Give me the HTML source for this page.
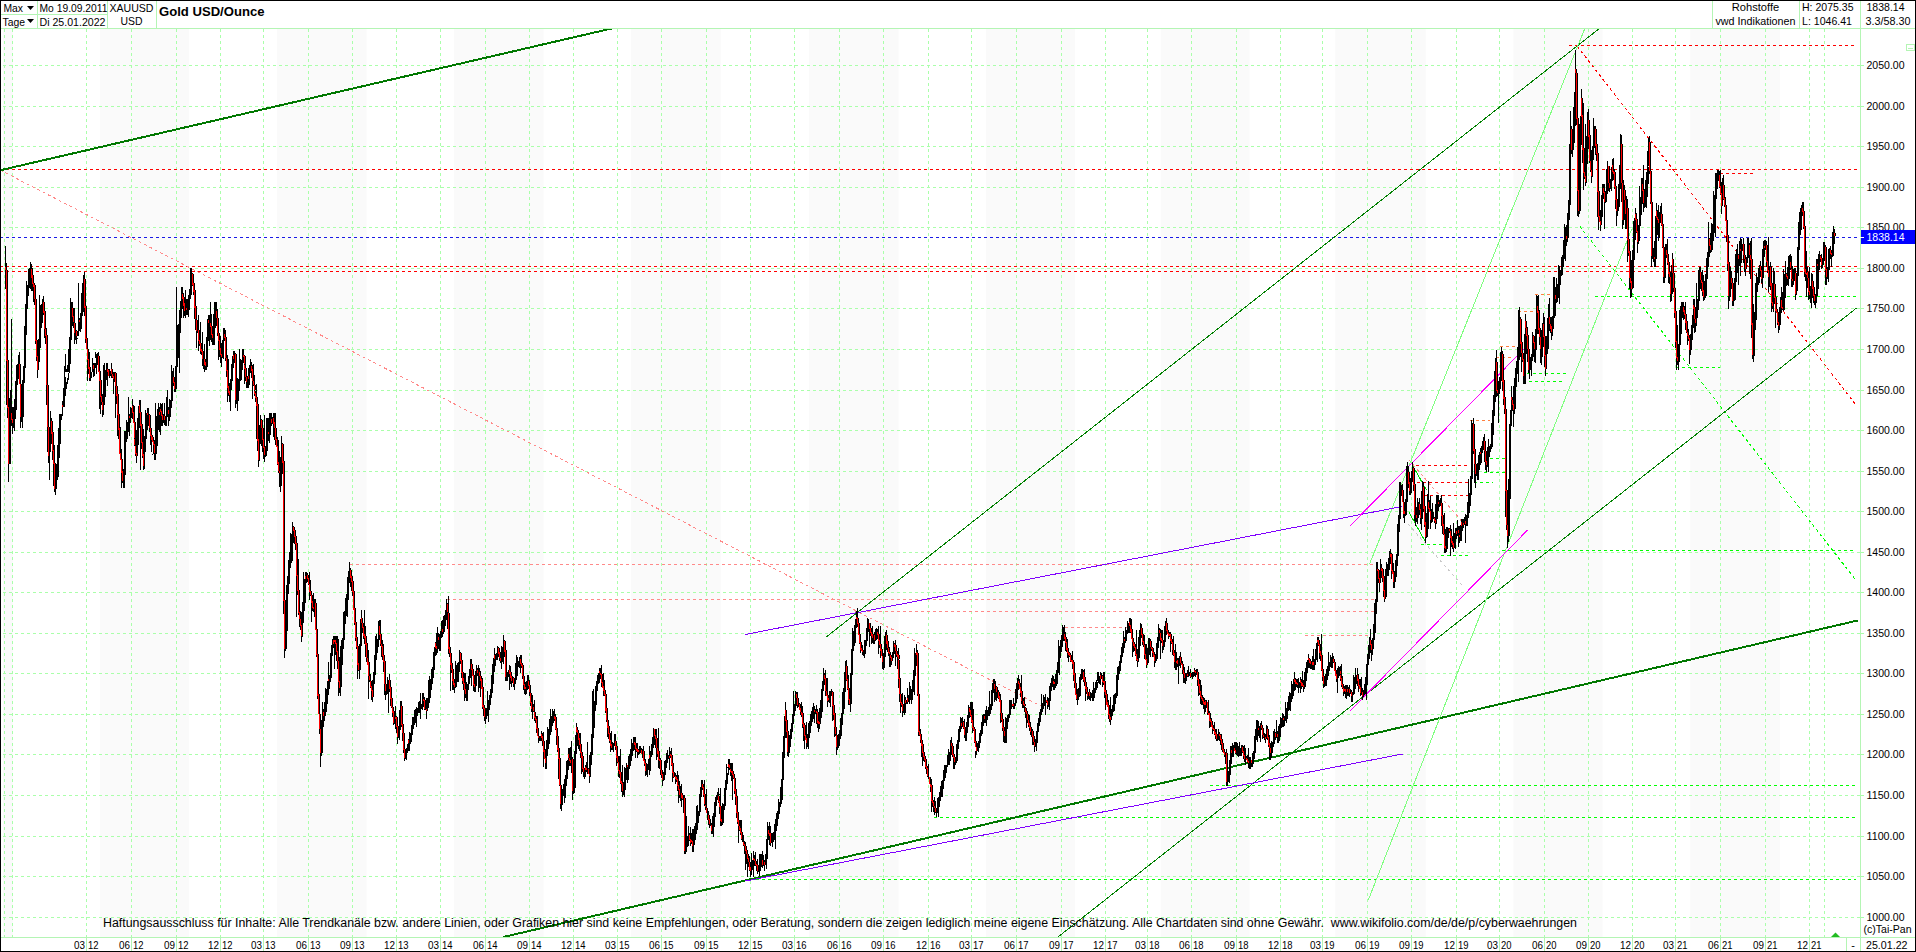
<!DOCTYPE html><html><head><meta charset="utf-8"><style>html,body{margin:0;padding:0;background:#fff;overflow:hidden}svg{display:block}text{font-family:"Liberation Sans", sans-serif}</style></head><body>
<svg width="1916" height="952" viewBox="0 0 1916 952">
<rect x="0" y="0" width="1916" height="952" fill="#fff"/>
<g fill="#fafafa">
<rect x="3" y="29" width="10.0" height="908"/>
<rect x="100" y="29" width="89.0" height="908"/>
<rect x="277" y="29" width="89.5" height="908"/>
<rect x="454" y="29" width="89.5" height="908"/>
<rect x="631" y="29" width="89.7" height="908"/>
<rect x="809" y="29" width="89.6" height="908"/>
<rect x="986" y="29" width="89.0" height="908"/>
<rect x="1160.7" y="29" width="88.9" height="908"/>
<rect x="1335.3" y="29" width="90.4" height="908"/>
<rect x="1513.4" y="29" width="89.2" height="908"/>
<rect x="1690.3" y="29" width="89.7" height="908"/>
</g>
<path d="M3 917.5H1857M3 876.5H1857M3 836.5H1857M3 795.5H1857M3 754.5H1857M3 714.5H1857M3 673.5H1857M3 633.5H1857M3 592.5H1857M3 552.5H1857M3 511.5H1857M3 471.5H1857M3 430.5H1857M3 390.5H1857M3 349.5H1857M3 308.5H1857M3 268.5H1857M3 227.5H1857M3 187.5H1857M3 146.5H1857M3 106.5H1857M3 65.5H1857" stroke="#aaffaa" stroke-width="1" stroke-dasharray="3 3" fill="none"/>
<path d="M1857 917.5H1864M1857 876.5H1864M1857 836.5H1864M1857 795.5H1864M1857 754.5H1864M1857 714.5H1864M1857 673.5H1864M1857 633.5H1864M1857 592.5H1864M1857 552.5H1864M1857 511.5H1864M1857 471.5H1864M1857 430.5H1864M1857 390.5H1864M1857 349.5H1864M1857 308.5H1864M1857 268.5H1864M1857 227.5H1864M1857 187.5H1864M1857 146.5H1864M1857 106.5H1864M1857 65.5H1864" stroke="#aaffaa" stroke-width="1" fill="none"/>
<path d="M4.5 29V937M12.5 29V937M86.5 29V937M131.5 29V937M176.5 29V937M220.5 29V937M263.5 29V937M308.5 29V937M352.5 29V937M396.5 29V937M440.5 29V937M485.5 29V937M529.5 29V937M573.5 29V937M617.5 29V937M661.5 29V937M706.5 29V937M750.5 29V937M794.5 29V937M839.5 29V937M883.5 29V937M928.5 29V937M971.5 29V937M1016.5 29V937M1061.5 29V937M1105.5 29V937M1147.5 29V937M1191.5 29V937M1236.5 29V937M1280.5 29V937M1322.5 29V937M1367.5 29V937M1411.5 29V937M1456.5 29V937M1499.5 29V937M1544.5 29V937M1588.5 29V937M1632.5 29V937M1675.5 29V937M1720.5 29V937M1765.5 29V937M1809.5 29V937M1824.5 29V937" stroke="#aaffaa" stroke-width="1" stroke-dasharray="3 3" fill="none"/>
<path d="M86.5 937V951M131.5 937V951M176.5 937V951M220.5 937V951M263.5 937V951M308.5 937V951M352.5 937V951M396.5 937V951M440.5 937V951M485.5 937V951M529.5 937V951M573.5 937V951M617.5 937V951M661.5 937V951M706.5 937V951M750.5 937V951M794.5 937V951M839.5 937V951M883.5 937V951M928.5 937V951M971.5 937V951M1016.5 937V951M1061.5 937V951M1105.5 937V951M1147.5 937V951M1191.5 937V951M1236.5 937V951M1280.5 937V951M1322.5 937V951M1367.5 937V951M1411.5 937V951M1456.5 937V951M1499.5 937V951M1544.5 937V951M1588.5 937V951M1632.5 937V951M1675.5 937V951M1720.5 937V951M1765.5 937V951M1809.5 937V951" stroke="#b4f5b4" stroke-width="1" fill="none"/>
<path d="M0 14.5H107M0 28.5H1915M37.5 1V28M107.5 1V28M156.5 1V28M1712.5 1V28M1799.5 1V28M1860.5 1V951M0 937.5H1915M1846.5 938V951" stroke="#b4f5b4" stroke-width="1" fill="none"/>
<text x="3.5" y="12" font-size="11" text-anchor="start" font-weight="normal" fill="#000" textLength="19.5" lengthAdjust="spacingAndGlyphs">Max</text>
<path d="M27 6H34L30.5 10Z" fill="#000"/>
<text x="2.5" y="26" font-size="11" text-anchor="start" font-weight="normal" fill="#000" textLength="22.5" lengthAdjust="spacingAndGlyphs">Tage</text>
<path d="M27 19H34L30.5 23Z" fill="#000"/>
<text x="39.5" y="12" font-size="11" text-anchor="start" font-weight="normal" fill="#000" textLength="68" lengthAdjust="spacingAndGlyphs">Mo 19.09.2011</text>
<text x="39.5" y="26" font-size="11" text-anchor="start" font-weight="normal" fill="#000" textLength="66" lengthAdjust="spacingAndGlyphs">Di 25.01.2022</text>
<text x="131.5" y="11.5" font-size="11" text-anchor="middle" font-weight="normal" fill="#000" textLength="44" lengthAdjust="spacingAndGlyphs">XAUUSD</text>
<text x="131.5" y="25" font-size="11" text-anchor="middle" font-weight="normal" fill="#000" textLength="22" lengthAdjust="spacingAndGlyphs">USD</text>
<text x="159" y="16" font-size="13" text-anchor="start" font-weight="bold" fill="#000" textLength="105.5" lengthAdjust="spacingAndGlyphs">Gold USD/Ounce</text>
<text x="1755.5" y="11" font-size="11" text-anchor="middle" font-weight="normal" fill="#000" textLength="47.5" lengthAdjust="spacingAndGlyphs">Rohstoffe</text>
<text x="1755.5" y="24.5" font-size="11" text-anchor="middle" font-weight="normal" fill="#000" textLength="80" lengthAdjust="spacingAndGlyphs">vwd Indikationen</text>
<text x="1802" y="11" font-size="11" text-anchor="start" font-weight="normal" fill="#000" textLength="51.5" lengthAdjust="spacingAndGlyphs">H: 2075.35</text>
<text x="1802" y="24.5" font-size="11" text-anchor="start" font-weight="normal" fill="#000" textLength="50" lengthAdjust="spacingAndGlyphs">L: 1046.41</text>
<text x="1866.5" y="11" font-size="11" text-anchor="start" font-weight="normal" fill="#000" textLength="38" lengthAdjust="spacingAndGlyphs">1838.14</text>
<text x="1865.5" y="24.5" font-size="11" text-anchor="start" font-weight="normal" fill="#000" textLength="45" lengthAdjust="spacingAndGlyphs">3.3/58.30</text>
<text x="1866.5" y="921" font-size="11" text-anchor="start" font-weight="normal" fill="#000" textLength="38" lengthAdjust="spacingAndGlyphs">1000.00</text>
<text x="1866.5" y="880" font-size="11" text-anchor="start" font-weight="normal" fill="#000" textLength="38" lengthAdjust="spacingAndGlyphs">1050.00</text>
<text x="1866.5" y="840" font-size="11" text-anchor="start" font-weight="normal" fill="#000" textLength="38" lengthAdjust="spacingAndGlyphs">1100.00</text>
<text x="1866.5" y="799" font-size="11" text-anchor="start" font-weight="normal" fill="#000" textLength="38" lengthAdjust="spacingAndGlyphs">1150.00</text>
<text x="1866.5" y="758" font-size="11" text-anchor="start" font-weight="normal" fill="#000" textLength="38" lengthAdjust="spacingAndGlyphs">1200.00</text>
<text x="1866.5" y="718" font-size="11" text-anchor="start" font-weight="normal" fill="#000" textLength="38" lengthAdjust="spacingAndGlyphs">1250.00</text>
<text x="1866.5" y="677" font-size="11" text-anchor="start" font-weight="normal" fill="#000" textLength="38" lengthAdjust="spacingAndGlyphs">1300.00</text>
<text x="1866.5" y="637" font-size="11" text-anchor="start" font-weight="normal" fill="#000" textLength="38" lengthAdjust="spacingAndGlyphs">1350.00</text>
<text x="1866.5" y="596" font-size="11" text-anchor="start" font-weight="normal" fill="#000" textLength="38" lengthAdjust="spacingAndGlyphs">1400.00</text>
<text x="1866.5" y="556" font-size="11" text-anchor="start" font-weight="normal" fill="#000" textLength="38" lengthAdjust="spacingAndGlyphs">1450.00</text>
<text x="1866.5" y="515" font-size="11" text-anchor="start" font-weight="normal" fill="#000" textLength="38" lengthAdjust="spacingAndGlyphs">1500.00</text>
<text x="1866.5" y="475" font-size="11" text-anchor="start" font-weight="normal" fill="#000" textLength="38" lengthAdjust="spacingAndGlyphs">1550.00</text>
<text x="1866.5" y="434" font-size="11" text-anchor="start" font-weight="normal" fill="#000" textLength="38" lengthAdjust="spacingAndGlyphs">1600.00</text>
<text x="1866.5" y="394" font-size="11" text-anchor="start" font-weight="normal" fill="#000" textLength="38" lengthAdjust="spacingAndGlyphs">1650.00</text>
<text x="1866.5" y="353" font-size="11" text-anchor="start" font-weight="normal" fill="#000" textLength="38" lengthAdjust="spacingAndGlyphs">1700.00</text>
<text x="1866.5" y="312" font-size="11" text-anchor="start" font-weight="normal" fill="#000" textLength="38" lengthAdjust="spacingAndGlyphs">1750.00</text>
<text x="1866.5" y="272" font-size="11" text-anchor="start" font-weight="normal" fill="#000" textLength="38" lengthAdjust="spacingAndGlyphs">1800.00</text>
<text x="1866.5" y="231" font-size="11" text-anchor="start" font-weight="normal" fill="#000" textLength="38" lengthAdjust="spacingAndGlyphs">1850.00</text>
<text x="1866.5" y="191" font-size="11" text-anchor="start" font-weight="normal" fill="#000" textLength="38" lengthAdjust="spacingAndGlyphs">1900.00</text>
<text x="1866.5" y="150" font-size="11" text-anchor="start" font-weight="normal" fill="#000" textLength="38" lengthAdjust="spacingAndGlyphs">1950.00</text>
<text x="1866.5" y="110" font-size="11" text-anchor="start" font-weight="normal" fill="#000" textLength="38" lengthAdjust="spacingAndGlyphs">2000.00</text>
<text x="1866.5" y="69" font-size="11" text-anchor="start" font-weight="normal" fill="#000" textLength="38" lengthAdjust="spacingAndGlyphs">2050.00</text>
<rect x="1906.5" y="44.5" width="8" height="6" fill="none" stroke="#b4f5b4"/><path d="M1908 48.5H1913" stroke="#b4f5b4"/>
<text x="85.0" y="948.5" font-size="11" text-anchor="end" font-weight="normal" fill="#000" textLength="11" lengthAdjust="spacingAndGlyphs">03</text>
<text x="88.0" y="948.5" font-size="11" text-anchor="start" font-weight="normal" fill="#000" textLength="10.5" lengthAdjust="spacingAndGlyphs">12</text>
<text x="130.0" y="948.5" font-size="11" text-anchor="end" font-weight="normal" fill="#000" textLength="11" lengthAdjust="spacingAndGlyphs">06</text>
<text x="133.0" y="948.5" font-size="11" text-anchor="start" font-weight="normal" fill="#000" textLength="10.5" lengthAdjust="spacingAndGlyphs">12</text>
<text x="175.0" y="948.5" font-size="11" text-anchor="end" font-weight="normal" fill="#000" textLength="11" lengthAdjust="spacingAndGlyphs">09</text>
<text x="178.0" y="948.5" font-size="11" text-anchor="start" font-weight="normal" fill="#000" textLength="10.5" lengthAdjust="spacingAndGlyphs">12</text>
<text x="219.0" y="948.5" font-size="11" text-anchor="end" font-weight="normal" fill="#000" textLength="11" lengthAdjust="spacingAndGlyphs">12</text>
<text x="222.0" y="948.5" font-size="11" text-anchor="start" font-weight="normal" fill="#000" textLength="10.5" lengthAdjust="spacingAndGlyphs">12</text>
<text x="262.0" y="948.5" font-size="11" text-anchor="end" font-weight="normal" fill="#000" textLength="11" lengthAdjust="spacingAndGlyphs">03</text>
<text x="265.0" y="948.5" font-size="11" text-anchor="start" font-weight="normal" fill="#000" textLength="10.5" lengthAdjust="spacingAndGlyphs">13</text>
<text x="307.0" y="948.5" font-size="11" text-anchor="end" font-weight="normal" fill="#000" textLength="11" lengthAdjust="spacingAndGlyphs">06</text>
<text x="310.0" y="948.5" font-size="11" text-anchor="start" font-weight="normal" fill="#000" textLength="10.5" lengthAdjust="spacingAndGlyphs">13</text>
<text x="351.0" y="948.5" font-size="11" text-anchor="end" font-weight="normal" fill="#000" textLength="11" lengthAdjust="spacingAndGlyphs">09</text>
<text x="354.0" y="948.5" font-size="11" text-anchor="start" font-weight="normal" fill="#000" textLength="10.5" lengthAdjust="spacingAndGlyphs">13</text>
<text x="395.0" y="948.5" font-size="11" text-anchor="end" font-weight="normal" fill="#000" textLength="11" lengthAdjust="spacingAndGlyphs">12</text>
<text x="398.0" y="948.5" font-size="11" text-anchor="start" font-weight="normal" fill="#000" textLength="10.5" lengthAdjust="spacingAndGlyphs">13</text>
<text x="439.0" y="948.5" font-size="11" text-anchor="end" font-weight="normal" fill="#000" textLength="11" lengthAdjust="spacingAndGlyphs">03</text>
<text x="442.0" y="948.5" font-size="11" text-anchor="start" font-weight="normal" fill="#000" textLength="10.5" lengthAdjust="spacingAndGlyphs">14</text>
<text x="484.0" y="948.5" font-size="11" text-anchor="end" font-weight="normal" fill="#000" textLength="11" lengthAdjust="spacingAndGlyphs">06</text>
<text x="487.0" y="948.5" font-size="11" text-anchor="start" font-weight="normal" fill="#000" textLength="10.5" lengthAdjust="spacingAndGlyphs">14</text>
<text x="528.0" y="948.5" font-size="11" text-anchor="end" font-weight="normal" fill="#000" textLength="11" lengthAdjust="spacingAndGlyphs">09</text>
<text x="531.0" y="948.5" font-size="11" text-anchor="start" font-weight="normal" fill="#000" textLength="10.5" lengthAdjust="spacingAndGlyphs">14</text>
<text x="572.0" y="948.5" font-size="11" text-anchor="end" font-weight="normal" fill="#000" textLength="11" lengthAdjust="spacingAndGlyphs">12</text>
<text x="575.0" y="948.5" font-size="11" text-anchor="start" font-weight="normal" fill="#000" textLength="10.5" lengthAdjust="spacingAndGlyphs">14</text>
<text x="616.0" y="948.5" font-size="11" text-anchor="end" font-weight="normal" fill="#000" textLength="11" lengthAdjust="spacingAndGlyphs">03</text>
<text x="619.0" y="948.5" font-size="11" text-anchor="start" font-weight="normal" fill="#000" textLength="10.5" lengthAdjust="spacingAndGlyphs">15</text>
<text x="660.0" y="948.5" font-size="11" text-anchor="end" font-weight="normal" fill="#000" textLength="11" lengthAdjust="spacingAndGlyphs">06</text>
<text x="663.0" y="948.5" font-size="11" text-anchor="start" font-weight="normal" fill="#000" textLength="10.5" lengthAdjust="spacingAndGlyphs">15</text>
<text x="705.0" y="948.5" font-size="11" text-anchor="end" font-weight="normal" fill="#000" textLength="11" lengthAdjust="spacingAndGlyphs">09</text>
<text x="708.0" y="948.5" font-size="11" text-anchor="start" font-weight="normal" fill="#000" textLength="10.5" lengthAdjust="spacingAndGlyphs">15</text>
<text x="749.0" y="948.5" font-size="11" text-anchor="end" font-weight="normal" fill="#000" textLength="11" lengthAdjust="spacingAndGlyphs">12</text>
<text x="752.0" y="948.5" font-size="11" text-anchor="start" font-weight="normal" fill="#000" textLength="10.5" lengthAdjust="spacingAndGlyphs">15</text>
<text x="793.0" y="948.5" font-size="11" text-anchor="end" font-weight="normal" fill="#000" textLength="11" lengthAdjust="spacingAndGlyphs">03</text>
<text x="796.0" y="948.5" font-size="11" text-anchor="start" font-weight="normal" fill="#000" textLength="10.5" lengthAdjust="spacingAndGlyphs">16</text>
<text x="838.0" y="948.5" font-size="11" text-anchor="end" font-weight="normal" fill="#000" textLength="11" lengthAdjust="spacingAndGlyphs">06</text>
<text x="841.0" y="948.5" font-size="11" text-anchor="start" font-weight="normal" fill="#000" textLength="10.5" lengthAdjust="spacingAndGlyphs">16</text>
<text x="882.0" y="948.5" font-size="11" text-anchor="end" font-weight="normal" fill="#000" textLength="11" lengthAdjust="spacingAndGlyphs">09</text>
<text x="885.0" y="948.5" font-size="11" text-anchor="start" font-weight="normal" fill="#000" textLength="10.5" lengthAdjust="spacingAndGlyphs">16</text>
<text x="927.0" y="948.5" font-size="11" text-anchor="end" font-weight="normal" fill="#000" textLength="11" lengthAdjust="spacingAndGlyphs">12</text>
<text x="930.0" y="948.5" font-size="11" text-anchor="start" font-weight="normal" fill="#000" textLength="10.5" lengthAdjust="spacingAndGlyphs">16</text>
<text x="970.0" y="948.5" font-size="11" text-anchor="end" font-weight="normal" fill="#000" textLength="11" lengthAdjust="spacingAndGlyphs">03</text>
<text x="973.0" y="948.5" font-size="11" text-anchor="start" font-weight="normal" fill="#000" textLength="10.5" lengthAdjust="spacingAndGlyphs">17</text>
<text x="1015.0" y="948.5" font-size="11" text-anchor="end" font-weight="normal" fill="#000" textLength="11" lengthAdjust="spacingAndGlyphs">06</text>
<text x="1018.0" y="948.5" font-size="11" text-anchor="start" font-weight="normal" fill="#000" textLength="10.5" lengthAdjust="spacingAndGlyphs">17</text>
<text x="1060.0" y="948.5" font-size="11" text-anchor="end" font-weight="normal" fill="#000" textLength="11" lengthAdjust="spacingAndGlyphs">09</text>
<text x="1063.0" y="948.5" font-size="11" text-anchor="start" font-weight="normal" fill="#000" textLength="10.5" lengthAdjust="spacingAndGlyphs">17</text>
<text x="1104.0" y="948.5" font-size="11" text-anchor="end" font-weight="normal" fill="#000" textLength="11" lengthAdjust="spacingAndGlyphs">12</text>
<text x="1107.0" y="948.5" font-size="11" text-anchor="start" font-weight="normal" fill="#000" textLength="10.5" lengthAdjust="spacingAndGlyphs">17</text>
<text x="1146.0" y="948.5" font-size="11" text-anchor="end" font-weight="normal" fill="#000" textLength="11" lengthAdjust="spacingAndGlyphs">03</text>
<text x="1149.0" y="948.5" font-size="11" text-anchor="start" font-weight="normal" fill="#000" textLength="10.5" lengthAdjust="spacingAndGlyphs">18</text>
<text x="1190.0" y="948.5" font-size="11" text-anchor="end" font-weight="normal" fill="#000" textLength="11" lengthAdjust="spacingAndGlyphs">06</text>
<text x="1193.0" y="948.5" font-size="11" text-anchor="start" font-weight="normal" fill="#000" textLength="10.5" lengthAdjust="spacingAndGlyphs">18</text>
<text x="1235.0" y="948.5" font-size="11" text-anchor="end" font-weight="normal" fill="#000" textLength="11" lengthAdjust="spacingAndGlyphs">09</text>
<text x="1238.0" y="948.5" font-size="11" text-anchor="start" font-weight="normal" fill="#000" textLength="10.5" lengthAdjust="spacingAndGlyphs">18</text>
<text x="1279.0" y="948.5" font-size="11" text-anchor="end" font-weight="normal" fill="#000" textLength="11" lengthAdjust="spacingAndGlyphs">12</text>
<text x="1282.0" y="948.5" font-size="11" text-anchor="start" font-weight="normal" fill="#000" textLength="10.5" lengthAdjust="spacingAndGlyphs">18</text>
<text x="1321.0" y="948.5" font-size="11" text-anchor="end" font-weight="normal" fill="#000" textLength="11" lengthAdjust="spacingAndGlyphs">03</text>
<text x="1324.0" y="948.5" font-size="11" text-anchor="start" font-weight="normal" fill="#000" textLength="10.5" lengthAdjust="spacingAndGlyphs">19</text>
<text x="1366.0" y="948.5" font-size="11" text-anchor="end" font-weight="normal" fill="#000" textLength="11" lengthAdjust="spacingAndGlyphs">06</text>
<text x="1369.0" y="948.5" font-size="11" text-anchor="start" font-weight="normal" fill="#000" textLength="10.5" lengthAdjust="spacingAndGlyphs">19</text>
<text x="1410.0" y="948.5" font-size="11" text-anchor="end" font-weight="normal" fill="#000" textLength="11" lengthAdjust="spacingAndGlyphs">09</text>
<text x="1413.0" y="948.5" font-size="11" text-anchor="start" font-weight="normal" fill="#000" textLength="10.5" lengthAdjust="spacingAndGlyphs">19</text>
<text x="1455.0" y="948.5" font-size="11" text-anchor="end" font-weight="normal" fill="#000" textLength="11" lengthAdjust="spacingAndGlyphs">12</text>
<text x="1458.0" y="948.5" font-size="11" text-anchor="start" font-weight="normal" fill="#000" textLength="10.5" lengthAdjust="spacingAndGlyphs">19</text>
<text x="1498.0" y="948.5" font-size="11" text-anchor="end" font-weight="normal" fill="#000" textLength="11" lengthAdjust="spacingAndGlyphs">03</text>
<text x="1501.0" y="948.5" font-size="11" text-anchor="start" font-weight="normal" fill="#000" textLength="10.5" lengthAdjust="spacingAndGlyphs">20</text>
<text x="1543.0" y="948.5" font-size="11" text-anchor="end" font-weight="normal" fill="#000" textLength="11" lengthAdjust="spacingAndGlyphs">06</text>
<text x="1546.0" y="948.5" font-size="11" text-anchor="start" font-weight="normal" fill="#000" textLength="10.5" lengthAdjust="spacingAndGlyphs">20</text>
<text x="1587.0" y="948.5" font-size="11" text-anchor="end" font-weight="normal" fill="#000" textLength="11" lengthAdjust="spacingAndGlyphs">09</text>
<text x="1590.0" y="948.5" font-size="11" text-anchor="start" font-weight="normal" fill="#000" textLength="10.5" lengthAdjust="spacingAndGlyphs">20</text>
<text x="1631.0" y="948.5" font-size="11" text-anchor="end" font-weight="normal" fill="#000" textLength="11" lengthAdjust="spacingAndGlyphs">12</text>
<text x="1634.0" y="948.5" font-size="11" text-anchor="start" font-weight="normal" fill="#000" textLength="10.5" lengthAdjust="spacingAndGlyphs">20</text>
<text x="1674.0" y="948.5" font-size="11" text-anchor="end" font-weight="normal" fill="#000" textLength="11" lengthAdjust="spacingAndGlyphs">03</text>
<text x="1677.0" y="948.5" font-size="11" text-anchor="start" font-weight="normal" fill="#000" textLength="10.5" lengthAdjust="spacingAndGlyphs">21</text>
<text x="1719.0" y="948.5" font-size="11" text-anchor="end" font-weight="normal" fill="#000" textLength="11" lengthAdjust="spacingAndGlyphs">06</text>
<text x="1722.0" y="948.5" font-size="11" text-anchor="start" font-weight="normal" fill="#000" textLength="10.5" lengthAdjust="spacingAndGlyphs">21</text>
<text x="1764.0" y="948.5" font-size="11" text-anchor="end" font-weight="normal" fill="#000" textLength="11" lengthAdjust="spacingAndGlyphs">09</text>
<text x="1767.0" y="948.5" font-size="11" text-anchor="start" font-weight="normal" fill="#000" textLength="10.5" lengthAdjust="spacingAndGlyphs">21</text>
<text x="1808.0" y="948.5" font-size="11" text-anchor="end" font-weight="normal" fill="#000" textLength="11" lengthAdjust="spacingAndGlyphs">12</text>
<text x="1811.0" y="948.5" font-size="11" text-anchor="start" font-weight="normal" fill="#000" textLength="10.5" lengthAdjust="spacingAndGlyphs">21</text>
<text x="1853" y="948.5" font-size="11" text-anchor="middle" font-weight="normal" fill="#000">-</text>
<text x="1866" y="948.5" font-size="11" text-anchor="start" font-weight="normal" fill="#000" textLength="41.5" lengthAdjust="spacingAndGlyphs">25.01.22</text>
<text x="1863.5" y="932.5" font-size="11" text-anchor="start" font-weight="normal" fill="#000" textLength="48" lengthAdjust="spacingAndGlyphs">(c)Tai-Pan</text>
<path d="M1831 937L1835.5 932.5L1840 937Z" fill="#22bb22"/>
<defs><clipPath id="cc"><rect x="1" y="29" width="1859" height="908"/></clipPath></defs>
<g clip-path="url(#cc)">
<path d="M0 169.5L1860 169.5" stroke="#ff0000" stroke-width="1" fill="none" stroke-dasharray="3 3" shape-rendering="crispEdges"/>
<path d="M0 266.5L1860 266.5" stroke="#ff0000" stroke-width="1" fill="none" stroke-dasharray="3 3" shape-rendering="crispEdges"/>
<path d="M0 271.5L1860 271.5" stroke="#ff0000" stroke-width="1" fill="none" stroke-dasharray="3 3" shape-rendering="crispEdges"/>
<path d="M0 237.5L1864 237.5" stroke="#1a1ae6" stroke-width="1" fill="none" stroke-dasharray="3 3" shape-rendering="crispEdges"/>
<path d="M0 170L1041 706" stroke="#ff8a8a" stroke-width="1" fill="none" stroke-dasharray="3 3" shape-rendering="crispEdges"/>
<path d="M350 564.5L1374 564.5" stroke="#ff8a8a" stroke-width="1" fill="none" stroke-dasharray="3 3" shape-rendering="crispEdges"/>
<path d="M447 599.5L1374 599.5" stroke="#ff8a8a" stroke-width="1" fill="none" stroke-dasharray="3 3" shape-rendering="crispEdges"/>
<path d="M855 611.5L1374 611.5" stroke="#ff8a8a" stroke-width="1" fill="none" stroke-dasharray="3 3" shape-rendering="crispEdges"/>
<path d="M1065 627.5L1130 627.5" stroke="#ff8a8a" stroke-width="1" fill="none" stroke-dasharray="3 3" shape-rendering="crispEdges"/>
<path d="M1305 635.5L1370 635.5" stroke="#ff8a8a" stroke-width="1" fill="none" stroke-dasharray="3 3" shape-rendering="crispEdges"/>
<path d="M1569 45.5L1855 45.5" stroke="#ff0000" stroke-width="1" fill="none" stroke-dasharray="3 3" shape-rendering="crispEdges"/>
<path d="M1577 46L1856.6 405.7" stroke="#ff0000" stroke-width="1" fill="none" stroke-dasharray="3 3" shape-rendering="crispEdges"/>
<path d="M1720 173.5L1755 173.5" stroke="#ff0000" stroke-width="1" fill="none" stroke-dasharray="3 3" shape-rendering="crispEdges"/>
<path d="M1415.7 465.5L1469.5 465.5" stroke="#ff0000" stroke-width="1" fill="none" stroke-dasharray="3 3" shape-rendering="crispEdges"/>
<path d="M1417 482.5L1469.5 482.5" stroke="#ff0000" stroke-width="1" fill="none" stroke-dasharray="3 3" shape-rendering="crispEdges"/>
<path d="M1424 495.5L1469.5 495.5" stroke="#ff0000" stroke-width="1" fill="none" stroke-dasharray="3 3" shape-rendering="crispEdges"/>
<path d="M1535 294.5L1551 294.5" stroke="#ff8040" stroke-width="1" fill="none" stroke-dasharray="3 3" shape-rendering="crispEdges"/>
<path d="M1518 311.5L1533 311.5" stroke="#ff8040" stroke-width="1" fill="none" stroke-dasharray="3 3" shape-rendering="crispEdges"/>
<path d="M1500 346.5L1515 346.5" stroke="#ff8040" stroke-width="1" fill="none" stroke-dasharray="3 3" shape-rendering="crispEdges"/>
<path d="M1496 357.5L1512 357.5" stroke="#ff8040" stroke-width="1" fill="none" stroke-dasharray="3 3" shape-rendering="crispEdges"/>
<path d="M1470 420.5L1490 420.5" stroke="#ff8040" stroke-width="1" fill="none" stroke-dasharray="3 3" shape-rendering="crispEdges"/>
<path d="M1595 296.5L1856 296.5" stroke="#00ff00" stroke-width="1" fill="none" stroke-dasharray="3 3" shape-rendering="crispEdges"/>
<path d="M1676 367.5L1720 367.5" stroke="#00ff00" stroke-width="1" fill="none" stroke-dasharray="3 3" shape-rendering="crispEdges"/>
<path d="M1502 550.5L1856 550.5" stroke="#00ff00" stroke-width="1" fill="none" stroke-dasharray="3 3" shape-rendering="crispEdges"/>
<path d="M1210 785.5L1856 785.5" stroke="#00ff00" stroke-width="1" fill="none" stroke-dasharray="3 3" shape-rendering="crispEdges"/>
<path d="M934 817.5L1856 817.5" stroke="#00ff00" stroke-width="1" fill="none" stroke-dasharray="3 3" shape-rendering="crispEdges"/>
<path d="M750 879.5L1856 879.5" stroke="#00ff00" stroke-width="1" fill="none" stroke-dasharray="3 3" shape-rendering="crispEdges"/>
<path d="M1527 373.5L1566 373.5" stroke="#00ff00" stroke-width="1" fill="none" stroke-dasharray="3 3" shape-rendering="crispEdges"/>
<path d="M1523 381.5L1562 381.5" stroke="#00ff00" stroke-width="1" fill="none" stroke-dasharray="3 3" shape-rendering="crispEdges"/>
<path d="M1421 544.5L1446 544.5" stroke="#00ff00" stroke-width="1" fill="none" stroke-dasharray="3 3" shape-rendering="crispEdges"/>
<path d="M1441 555.5L1468 555.5" stroke="#00ff00" stroke-width="1" fill="none" stroke-dasharray="3 3" shape-rendering="crispEdges"/>
<path d="M1474 482.5L1493 482.5" stroke="#00ff00" stroke-width="1" fill="none" stroke-dasharray="3 3" shape-rendering="crispEdges"/>
<path d="M1484 472.5L1505 472.5" stroke="#00ff00" stroke-width="1" fill="none" stroke-dasharray="3 3" shape-rendering="crispEdges"/>
<path d="M1490 458.5L1508 458.5" stroke="#00ff00" stroke-width="1" fill="none" stroke-dasharray="3 3" shape-rendering="crispEdges"/>
<path d="M1579.8 226.3L1855 579" stroke="#00ff00" stroke-width="1" fill="none" stroke-dasharray="3 3" shape-rendering="crispEdges"/>
<path d="M1412.4 465L1426.6 490.4" stroke="#00dd00" stroke-width="1" fill="none" shape-rendering="crispEdges"/>
<path d="M1409 512.3L1425.8 542.5" stroke="#00dd00" stroke-width="1" fill="none" shape-rendering="crispEdges"/>
<path d="M1408 524L1462.8 586" stroke="#c8c8c8" stroke-width="1" fill="none" stroke-dasharray="3 3" shape-rendering="crispEdges"/>
<path d="M1409 460L1462.8 522.4" stroke="#ff8a8a" stroke-width="1" fill="none" stroke-dasharray="3 3" shape-rendering="crispEdges"/>
<path d="M0 170.3L613.8 28" stroke="#007800" stroke-width="2" fill="none" shape-rendering="crispEdges"/>
<path d="M503.4 937L1857.6 620.5" stroke="#007800" stroke-width="2" fill="none" shape-rendering="crispEdges"/>
<path d="M826.6 636.7L1600 28" stroke="#008000" stroke-width="1" fill="none" shape-rendering="crispEdges"/>
<path d="M1058 937L1856.6 308" stroke="#008000" stroke-width="1" fill="none" shape-rendering="crispEdges"/>
<path d="M1369.4 564.4L1584.6 29" stroke="#80ff80" stroke-width="1" fill="none" shape-rendering="crispEdges"/>
<path d="M1368.3 900L1631.5 229.5" stroke="#80ff80" stroke-width="1" fill="none" shape-rendering="crispEdges"/>
<path d="M745.2 634.5L1402.3 506.4" stroke="#8000ff" stroke-width="1" fill="none" shape-rendering="crispEdges"/>
<path d="M745.6 881L1402.6 754" stroke="#8000ff" stroke-width="1" fill="none" shape-rendering="crispEdges"/>
<path d="M1350.2 525.7L1525 348" stroke="#ff00ff" stroke-width="1" fill="none" shape-rendering="crispEdges"/>
<path d="M1350 711L1527.6 530" stroke="#ff00ff" stroke-width="1" fill="none" shape-rendering="crispEdges"/>
<path d="M5.5 246V289M6.5 267V270M6.5 263V311M7.5 270V307M6.5 297V405M7.5 305V361M7.5 352V418M8.5 360V408M8.5 406V482M9.5 407V464M9.5 454V464M10.5 456V464M9.5 398V462M10.5 423V456M10.5 390V427M11.5 413V425M11.5 319V420M12.5 413V420M11.5 415V426M12.5 420V421M12.5 407V434M13.5 419V423M13.5 422V428M14.5 422V424M13.5 407V424M14.5 416V423M14.5 399V431M15.5 409V417M15.5 381V419M16.5 396V410M15.5 383V400M16.5 384V396M16.5 365V392M17.5 377V385M17.5 368V384M18.5 374V379M17.5 364V383M18.5 365V374M18.5 355V367M19.5 364V366M19.5 352V384M20.5 364V384M20.5 381V416M21.5 384V399M20.5 397V428M21.5 398V417M21.5 415V422M22.5 416V417M22.5 399V428M23.5 400V417M22.5 380V406M23.5 382V402M23.5 366V402M24.5 367V383M24.5 336V373M25.5 347V368M24.5 326V352M25.5 328V347M25.5 304V338M26.5 308V329M26.5 300V335M27.5 302V309M26.5 281V308M27.5 294V303M27.5 285V298M28.5 288V296M28.5 269V295M29.5 281V288M28.5 273V287M29.5 275V283M29.5 268V284M30.5 270V276M30.5 262V289M31.5 269V270M31.5 264V279M32.5 269V278M31.5 275V291M32.5 275V279M32.5 268V291M33.5 275V284M33.5 278V298M34.5 283V287M33.5 280V302M34.5 285V287M34.5 283V305M35.5 285V299M35.5 295V320M36.5 299V319M35.5 301V344M36.5 317V341M36.5 338V361M37.5 340V357M37.5 354V378M38.5 356V370M37.5 360V377M38.5 361V370M38.5 339V367M39.5 347V362M39.5 295V349M40.5 334V348M39.5 320V351M40.5 327V335M40.5 305V330M41.5 320V328M41.5 313V325M42.5 315V320M41.5 304V319M42.5 308V317M42.5 299V323M43.5 304V309M43.5 296V315M44.5 302V313M44.5 305V338M45.5 311V324M44.5 312V335M45.5 323V329M45.5 324V344M46.5 329V336M46.5 328V350M47.5 335V348M46.5 343V405M47.5 348V385M47.5 383V452M48.5 385V427M48.5 420V463M49.5 427V456M48.5 442V462M49.5 446V455M49.5 439V480M50.5 443V446M50.5 429V447M51.5 432V444M50.5 411V452M51.5 421V433M51.5 418V443M52.5 421V434M52.5 431V444M53.5 432V442M52.5 432V460M53.5 441V451M53.5 444V486M54.5 450V464M54.5 445V478M55.5 463V476M54.5 469V492M55.5 476V489M55.5 469V495M56.5 479V489M56.5 464V480M57.5 473V480M57.5 457V479M58.5 465V473M57.5 445V471M58.5 456V466M58.5 428V477M59.5 443V458M59.5 414V449M60.5 430V444M59.5 415V437M60.5 415V431M60.5 414V422M61.5 414V417M61.5 414V417M62.5 405V416M61.5 414V420M62.5 404V405M62.5 401V409M63.5 405V407M63.5 395V407M64.5 400V407M63.5 388V402M64.5 394V400M64.5 366V407M65.5 389V396M65.5 377V391M66.5 388V389M65.5 354V372M66.5 382V389M66.5 369V372M67.5 378V384M67.5 365V372M68.5 373V380M68.5 368V372M69.5 369V373M68.5 349V372M69.5 357V369M69.5 337V368M70.5 339V359M70.5 321V364M71.5 324V340M70.5 298V326M71.5 309V325M71.5 302V310M72.5 308V310M72.5 302V313M73.5 309V310M72.5 303V326M73.5 308V317M73.5 309V328M74.5 316V322M74.5 308V338M75.5 323V329M74.5 313V344M75.5 329V333M75.5 323V340M76.5 331V334M76.5 330V344M77.5 331V334M76.5 332V344M77.5 333V336M77.5 338V339M78.5 328V336M78.5 283V336M79.5 322V331M78.5 309V327M79.5 321V322M79.5 318V324M80.5 320V322M80.5 313V332M81.5 314V322M81.5 299V329M82.5 314V316M81.5 293V322M82.5 301V315M82.5 283V310M83.5 288V302M83.5 281V292M84.5 284V288M83.5 275V312M84.5 280V285M84.5 272V316M85.5 279V308M85.5 306V336M86.5 306V331M85.5 328V343M86.5 330V339M86.5 337V349M87.5 338V349M87.5 347V358M88.5 349V357M87.5 356V381M88.5 357V360M88.5 355V374M89.5 359V369M89.5 362V381M90.5 367V375M89.5 352V381M90.5 373V378M90.5 367V381M91.5 372V378M91.5 374V375M92.5 370V372M91.5 374V375M92.5 367V371M92.5 358V372M93.5 364V367M93.5 363V377M94.5 365V369M94.5 364V376M95.5 367V368M94.5 363V369M95.5 363V368M95.5 352V358M96.5 362V364M96.5 361V374M97.5 362V365M96.5 354V374M97.5 357V362M97.5 353V365M98.5 355V359M98.5 355V360M99.5 356V360M98.5 352V372M99.5 359V372M99.5 367V409M100.5 371V381M100.5 380V400M101.5 380V389M100.5 379V414M101.5 388V397M101.5 383V405M102.5 396V402M102.5 394V417M103.5 402V410M102.5 401V417M103.5 403V409M103.5 365V415M104.5 397V405M104.5 385V399M105.5 386V397M104.5 363V398M105.5 377V387M105.5 370V388M106.5 372V378M106.5 366V377M107.5 369V372M106.5 363V380M107.5 368V369M107.5 363V386M108.5 369V372M108.5 370V371M109.5 370V376M109.5 374V377M110.5 374V376M109.5 369V378M110.5 374V376M110.5 371V374M111.5 372V374M111.5 363V378M112.5 370V374M111.5 368V378M112.5 369V374M112.5 372V378M113.5 374V377M113.5 372V387M114.5 376V379M113.5 372V394M114.5 376V378M114.5 372V382M115.5 374V377M115.5 372V404M116.5 373V378M115.5 376V418M116.5 378V386M116.5 379V404M117.5 386V396M117.5 394V436M118.5 394V403M117.5 399V416M118.5 402V415M118.5 405V439M119.5 414V430M119.5 417V444M120.5 428V443M119.5 437V454M120.5 441V454M120.5 427V460M121.5 453V460M121.5 449V475M122.5 459V468M121.5 466V488M122.5 468V473M122.5 463V483M123.5 471V481M123.5 469V488M124.5 474V481M124.5 456V488M125.5 458V475M124.5 431V461M125.5 441V459M125.5 431V460M126.5 434V442M126.5 432V436M127.5 433V436M126.5 420V438M127.5 431V433M127.5 422V439M128.5 424V432M128.5 397V428M129.5 422V424M128.5 408V423M129.5 415V422M129.5 414V436M130.5 416V418M130.5 407V423M131.5 414V418M130.5 410V417M131.5 412V414M131.5 408V418M132.5 409V414M132.5 399V419M133.5 405V412M132.5 402V414M133.5 406V413M133.5 410V423M134.5 412V423M134.5 410V440M135.5 422V438M134.5 406V446M135.5 439V445M135.5 429V456M136.5 446V454M136.5 450V463M137.5 453V456M136.5 430V457M137.5 440V455M137.5 418V449M138.5 426V441M138.5 406V445M139.5 415V427M139.5 403V426M140.5 406V416M139.5 400V428M140.5 405V413M140.5 400V470M141.5 412V426M141.5 413V435M142.5 424V434M141.5 429V449M142.5 432V443M142.5 434V458M143.5 442V456M143.5 429V470M144.5 454V466M143.5 442V467M144.5 450V465M144.5 436V469M145.5 438V452M145.5 428V443M146.5 432V439M145.5 410V437M146.5 417V433M146.5 413V422M147.5 414V417M147.5 410V430M148.5 413V415M147.5 408V425M148.5 414V416M148.5 408V426M149.5 414V415M149.5 414V421M150.5 415V420M149.5 416V432M150.5 419V428M150.5 427V445M151.5 428V436M151.5 430V449M152.5 435V440M151.5 430V452M152.5 437V440M152.5 454V455M153.5 437V442M153.5 440V454M154.5 441V445M154.5 441V460M155.5 444V450M154.5 440V460M155.5 449V453M155.5 403V460M156.5 446V454M156.5 437V449M157.5 441V446M156.5 416V451M157.5 429V442M157.5 409V431M158.5 421V430M158.5 403V422M159.5 416V422M158.5 405V417M159.5 411V416M159.5 407V432M160.5 412V415M160.5 403V418M161.5 409V414M160.5 408V435M161.5 409V412M161.5 404V426M162.5 411V416M162.5 403V418M163.5 415V417M162.5 409V426M163.5 416V420M163.5 414V423M164.5 416V419M164.5 403V425M165.5 416V419M164.5 417V420M165.5 417V420M165.5 416V426M166.5 416V419M166.5 397V426M167.5 414V417M166.5 407V414M167.5 413V414M167.5 390V416M168.5 410V414M168.5 407V426M169.5 410V414M169.5 409V421M170.5 413V414M169.5 399V417M170.5 407V415M170.5 400V417M171.5 400V408M171.5 379V403M172.5 389V401M171.5 365V400M172.5 378V391M172.5 371V382M173.5 376V379M173.5 370V386M174.5 377V380M173.5 368V384M174.5 378V383M174.5 378V392M175.5 382V389M175.5 368V392M176.5 376V389M175.5 366V389M176.5 367V378M176.5 287V375M177.5 357V367M177.5 332V366M178.5 346V358M177.5 325V353M178.5 337V348M178.5 324V346M179.5 333V337M179.5 310V345M180.5 329V333M179.5 316V373M180.5 318V330M180.5 301V326M181.5 308V318M181.5 296V310M182.5 298V309M181.5 287V303M182.5 294V300M182.5 287V299M183.5 294V299M183.5 293V318M184.5 297V302M183.5 298V309M184.5 300V306M184.5 300V316M185.5 303V311M185.5 299V318M186.5 309V311M185.5 290V314M186.5 309V311M186.5 299V315M187.5 308V310M187.5 299V315M188.5 308V310M188.5 295V317M189.5 301V310M188.5 295V315M189.5 296V302M189.5 289V301M190.5 293V299M190.5 286V298M191.5 289V295M190.5 268V290M191.5 284V289M191.5 268V287M192.5 274V285M192.5 273V278M193.5 274V276M192.5 273V286M193.5 274V285M193.5 275V295M194.5 283V292M194.5 287V302M195.5 290V296M194.5 292V319M195.5 295V308M195.5 303V330M196.5 306V319M196.5 319V344M197.5 320V326M196.5 312V348M197.5 326V331M197.5 326V333M198.5 331V332M198.5 315V341M199.5 330V335M198.5 329V351M199.5 334V341M199.5 339V346M200.5 340V344M200.5 322V350M201.5 343V349M200.5 348V354M201.5 348V351M201.5 347V355M202.5 349V352M202.5 344V353M203.5 351V353M202.5 332V366M203.5 351V359M203.5 355V369M204.5 358V360M204.5 352V372M205.5 359V365M204.5 344V370M205.5 363V365M205.5 360V370M206.5 362V366M206.5 337V370M207.5 354V367M206.5 339V359M207.5 341V356M207.5 319V346M208.5 321V341M208.5 315V334M209.5 322V323M208.5 318V331M209.5 320V323M209.5 315V346M210.5 322V323M210.5 302V340M211.5 323V327M211.5 318V342M212.5 326V331M211.5 314V338M212.5 329V335M212.5 328V345M213.5 334V338M213.5 331V341M214.5 331V339M213.5 314V345M214.5 328V332M214.5 302V345M215.5 319V328M215.5 308V324M216.5 314V320M215.5 302V318M216.5 310V316M216.5 302V326M217.5 311V318M217.5 309V330M218.5 318V326M217.5 320V336M218.5 325V333M218.5 328V360M219.5 333V341M219.5 338V357M220.5 340V344M219.5 341V352M220.5 343V350M220.5 336V363M221.5 348V355M221.5 343V361M222.5 354V357M221.5 347V367M222.5 349V358M222.5 340V351M223.5 341V350M223.5 328V359M224.5 338V340M223.5 328V345M224.5 335V339M224.5 328V341M225.5 334V338M225.5 330V352M226.5 337V350M225.5 345V361M226.5 348V358M226.5 343V377M227.5 358V371M227.5 355V402M228.5 370V381M227.5 372V396M228.5 381V388M228.5 359V396M229.5 386V393M229.5 391V402M230.5 391V395M229.5 383V396M230.5 390V395M230.5 379V411M231.5 379V390M231.5 372V386M232.5 373V380M231.5 364V384M232.5 367V373M232.5 356V381M233.5 362V368M233.5 354V366M234.5 356V363M233.5 351V364M234.5 355V359M234.5 351V362M235.5 354V359M235.5 353V408M236.5 354V391M235.5 376V405M236.5 389V400M236.5 400V404M237.5 400V401M237.5 378V411M238.5 392V401M237.5 382V400M238.5 389V393M238.5 379V390M239.5 381V389M239.5 377V390M240.5 378V380M239.5 349V391M240.5 378V379M240.5 359V381M241.5 369V380M241.5 360V372M242.5 362V370M242.5 351V367M243.5 358V363M242.5 349V367M243.5 356V361M243.5 349V361M244.5 355V357M244.5 355V366M245.5 356V364M244.5 364V384M245.5 365V369M245.5 359V381M246.5 368V377M246.5 377V388M247.5 377V382M246.5 375V388M247.5 381V382M247.5 376V388M248.5 377V382M248.5 368V388M249.5 376V379M248.5 370V381M249.5 371V380M249.5 365V385M250.5 367V373M250.5 363V371M251.5 366V368M250.5 359V368M251.5 366V367M251.5 362V378M252.5 366V371M252.5 369V380M253.5 370V371M252.5 365V399M253.5 369V381M253.5 364V386M254.5 381V385M254.5 375V390M255.5 385V390M254.5 388V396M255.5 391V394M255.5 391V402M256.5 393V398M256.5 384V407M257.5 397V400M256.5 397V439M257.5 397V406M257.5 399V451M258.5 404V441M258.5 433V467M259.5 439V460M258.5 439V462M259.5 443V461M259.5 425V444M260.5 435V444M260.5 420V439M261.5 427V436M260.5 415V437M261.5 420V428M261.5 419V446M262.5 420V428M262.5 424V438M263.5 428V433M262.5 430V452M263.5 432V440M263.5 435V459M264.5 439V448M264.5 445V462M265.5 447V455M264.5 415V459M265.5 455V456M265.5 446V457M266.5 450V456M266.5 418V455M267.5 443V451M266.5 437V447M267.5 439V444M267.5 418V444M268.5 432V439M268.5 430V441M269.5 432V434M268.5 418V437M269.5 429V434M269.5 413V443M270.5 425V430M270.5 413V435M271.5 420V426M271.5 417V426M272.5 419V423M271.5 413V424M272.5 420V423M272.5 417V424M273.5 418V420M273.5 417V437M274.5 418V423M273.5 413V427M274.5 421V424M274.5 413V440M275.5 422V428M275.5 413V445M276.5 428V434M275.5 416V442M276.5 432V440M276.5 438V447M277.5 439V447M277.5 437V459M278.5 446V454M277.5 451V465M278.5 453V464M278.5 440V473M279.5 462V471M279.5 464V478M280.5 471V473M279.5 451V487M280.5 464V474M280.5 457V492M281.5 458V465M281.5 443V486M282.5 448V458M281.5 436V448M282.5 443V448M282.5 443V474M283.5 444V463M283.5 460V536M284.5 461V489M283.5 477V614M284.5 487V601M284.5 598V658M285.5 600V649M285.5 619V651M286.5 631V649M286.5 614V640M287.5 614V631M286.5 585V629M287.5 594V615M287.5 576V606M288.5 582V594M288.5 570V584M289.5 572V584M288.5 560V576M289.5 567V573M289.5 552V570M290.5 552V568M290.5 540V555M291.5 551V554M290.5 533V563M291.5 546V553M291.5 534V563M292.5 541V545M292.5 529V561M293.5 532V543M292.5 522V542M293.5 526V533M293.5 526V534M294.5 527V531M294.5 530V544M295.5 530V533M294.5 531V539M295.5 533V537M295.5 534V550M296.5 536V544M296.5 539V573M297.5 543V564M296.5 559V617M297.5 563V576M297.5 574V595M298.5 575V591M298.5 559V615M299.5 590V603M298.5 602V614M299.5 602V613M299.5 599V627M300.5 612V619M300.5 611V630M301.5 619V626M301.5 612V642M302.5 625V636M301.5 621V642M302.5 621V637M302.5 602V632M303.5 611V623M303.5 597V622M304.5 597V611M303.5 572V613M304.5 589V599M304.5 579V604M305.5 580V591M305.5 574V593M306.5 577V582M305.5 572V603M306.5 576V579M306.5 572V583M307.5 578V580M307.5 575V579M308.5 575V578M307.5 573V582M308.5 575V579M308.5 576V585M309.5 578V584M309.5 572V591M310.5 584V590M309.5 584V600M310.5 590V592M310.5 580V596M311.5 591V595M311.5 592V601M312.5 595V599M311.5 592V622M312.5 598V603M312.5 599V611M313.5 601V608M313.5 606V612M314.5 606V609M313.5 593V609M314.5 607V609M314.5 599V617M315.5 602V609M315.5 599V611M316.5 603V606M315.5 599V630M316.5 606V630M316.5 621V657M317.5 629V655M317.5 644V680M318.5 654V678M317.5 675V699M318.5 678V696M318.5 692V714M319.5 694V714M319.5 707V734M320.5 714V729M320.5 727V759M321.5 729V749M320.5 732V767M321.5 748V753M321.5 720V756M322.5 726V753M322.5 710V728M323.5 719V727M322.5 702V723M323.5 713V721M323.5 709V721M324.5 712V716M324.5 708V721M325.5 710V716M324.5 702V712M325.5 705V711M325.5 688V708M326.5 702V707M326.5 689V712M327.5 698V704M326.5 691V702M327.5 693V700M327.5 681V695M328.5 686V695M328.5 676V686M329.5 680V686M328.5 662V684M329.5 679V681M329.5 675V689M330.5 676V681M330.5 653V682M331.5 668V678M330.5 655V671M331.5 656V669M331.5 645V658M332.5 647V656M332.5 639V649M333.5 642V648M332.5 639V648M333.5 640V641M333.5 636V646M334.5 640V644M334.5 639V649M335.5 641V642M334.5 636V669M335.5 640V642M335.5 636V655M336.5 640V644M336.5 644V651M337.5 644V645M336.5 636V661M337.5 643V652M337.5 636V669M338.5 651V661M338.5 639V673M339.5 661V670M338.5 668V696M339.5 670V682M339.5 657V693M340.5 681V688M340.5 646V696M341.5 676V687M340.5 662V679M341.5 662V676M341.5 640V682M342.5 648V662M342.5 638V665M343.5 639V649M343.5 631V649M344.5 633V640M343.5 612V640M344.5 623V635M344.5 611V629M345.5 615V624M345.5 599V617M346.5 607V616M345.5 598V622M346.5 603V607M346.5 594V609M347.5 595V604M347.5 586V599M348.5 591V597M347.5 577V617M348.5 581V592M348.5 571V600M349.5 574V583M349.5 562V577M350.5 570V575M349.5 568V579M350.5 570V571M350.5 568V587M351.5 570V578M351.5 571V588M352.5 576V577M351.5 575V591M352.5 576V582M352.5 580V596M353.5 581V592M353.5 584V604M354.5 591V602M353.5 598V610M354.5 601V610M354.5 604V625M355.5 608V623M355.5 611V634M356.5 622V628M355.5 624V641M356.5 627V638M356.5 634V649M357.5 637V647M357.5 640V663M358.5 646V657M357.5 651V679M358.5 657V665M358.5 662V671M359.5 663V670M359.5 645V676M360.5 665V670M359.5 644V679M360.5 645V666M360.5 619V648M361.5 627V646M361.5 612V630M362.5 618V629M361.5 610V629M362.5 618V623M362.5 623V633M363.5 623V628M363.5 623V639M364.5 627V636M364.5 610V644M365.5 634V636M364.5 632V639M365.5 634V638M365.5 626V657M366.5 636V645M366.5 642V654M367.5 643V653M366.5 643V662M367.5 652V658M367.5 654V665M368.5 658V665M368.5 650V699M369.5 662V671M368.5 667V677M369.5 670V676M369.5 672V682M370.5 676V680M370.5 674V688M371.5 681V684M370.5 680V687M371.5 683V687M371.5 681V700M372.5 686V691M372.5 689V702M373.5 690V697M372.5 680V700M373.5 683V697M373.5 672V687M374.5 674V684M374.5 662V677M375.5 668V675M374.5 655V669M375.5 658V669M375.5 636V661M376.5 652V660M376.5 634V659M377.5 647V653M376.5 644V650M377.5 645V648M377.5 639V648M378.5 639V647M378.5 621V646M379.5 631V640M378.5 623V639M379.5 626V632M379.5 620V639M380.5 626V635M380.5 620V644M381.5 634V638M380.5 638V646M381.5 638V644M381.5 641V657M382.5 644V647M382.5 640V655M383.5 646V650M382.5 646V660M383.5 649V656M383.5 644V672M384.5 655V662M384.5 659V675M385.5 661V672M384.5 669V695M385.5 671V684M385.5 674V700M386.5 684V691M386.5 690V695M387.5 692V693M387.5 677V694M388.5 688V692M387.5 689V691M388.5 690V691M388.5 680V713M389.5 686V692M389.5 674V691M390.5 682V687M389.5 676V689M390.5 680V689M390.5 686V706M391.5 687V699M391.5 698V703M392.5 698V703M391.5 695V708M392.5 700V707M392.5 707V717M393.5 707V713M393.5 710V722M394.5 711V719M393.5 708V725M394.5 718V723M394.5 720V724M395.5 720V723M395.5 706V729M396.5 717V721M395.5 714V721M396.5 717V719M396.5 716V733M397.5 717V727M397.5 725V744M398.5 726V732M397.5 728V741M398.5 731V737M398.5 729V738M399.5 730V737M399.5 710V740M400.5 721V730M399.5 710V733M400.5 714V723M400.5 701V718M401.5 707V716M401.5 701V717M402.5 706V717M401.5 714V727M402.5 715V725M402.5 724V741M403.5 724V733M403.5 732V745M404.5 733V743M403.5 740V753M404.5 743V750M404.5 749V761M405.5 749V758M405.5 755V759M406.5 757V758M405.5 752V759M406.5 753V758M406.5 748V760M407.5 750V753M407.5 744V753M408.5 745V750M408.5 739V751M409.5 741V746M408.5 739V751M409.5 740V743M409.5 732V751M410.5 738V744M410.5 737V742M411.5 737V739M410.5 733V740M411.5 733V739M411.5 725V742M412.5 729V735M412.5 717V731M413.5 723V729M412.5 720V725M413.5 722V723M413.5 717V725M414.5 720V723M414.5 719V724M415.5 720V721M414.5 710V725M415.5 717V721M415.5 709V723M416.5 715V718M416.5 711V727M417.5 714V716M416.5 707V718M417.5 712V715M417.5 708V715M418.5 710V713M418.5 706V713M419.5 709V712M418.5 702V713M419.5 709V711M419.5 701V713M420.5 708V712M420.5 705V719M421.5 707V709M420.5 693V712M421.5 704V709M421.5 704V709M422.5 704V706M422.5 693V710M423.5 703V707M422.5 693V708M423.5 699V704M423.5 693V707M424.5 699V701M424.5 697V710M425.5 700V705M424.5 702V709M425.5 704V709M425.5 708V710M426.5 709V710M426.5 709V719M427.5 709V711M426.5 698V714M427.5 706V711M427.5 698V710M428.5 702V708M428.5 691V705M429.5 699V703M428.5 680V704M429.5 693V700M429.5 676V696M430.5 688V695M430.5 679V698M431.5 682V690M431.5 679V690M432.5 679V684M431.5 669V685M432.5 676V681M432.5 667V679M433.5 669V677M433.5 662V675M434.5 663V670M433.5 652V678M434.5 654V665M434.5 647V661M435.5 648V656M435.5 642V649M436.5 644V648M435.5 642V651M436.5 643V648M436.5 633V655M437.5 646V649M437.5 643V653M438.5 644V649M437.5 627V651M438.5 637V646M438.5 633V641M439.5 637V640M439.5 634V651M440.5 636V640M439.5 635V637M440.5 636V637M440.5 631V651M441.5 633V637M441.5 629V634M442.5 632V634M441.5 621V638M442.5 630V634M442.5 620V637M443.5 629V632M443.5 616V634M444.5 628V632M443.5 625V633M444.5 625V629M444.5 615V626M445.5 618V626M445.5 610V625M446.5 614V620M446.5 606V616M447.5 608V616M446.5 599V615M447.5 603V609M447.5 603V629M448.5 604V612M448.5 596V631M449.5 613V629M448.5 626V654M449.5 628V649M449.5 647V657M450.5 647V653M450.5 650V662M451.5 653V659M450.5 657V691M451.5 658V665M451.5 662V673M452.5 663V670M452.5 667V690M453.5 669V677M452.5 671V682M453.5 675V681M453.5 678V690M454.5 679V685M454.5 682V693M455.5 683V687M455.5 670V688M456.5 681V687M455.5 661V687M456.5 678V682M456.5 665V681M457.5 675V677M457.5 673V681M458.5 674V677M457.5 663V682M458.5 671V676M458.5 662V682M459.5 663V672M459.5 651V667M460.5 658V664M459.5 650V659M460.5 653V658M460.5 652V662M461.5 653V661M461.5 657V673M462.5 660V668M461.5 667V678M462.5 668V673M462.5 672V684M463.5 672V681M463.5 676V690M464.5 678V684M464.5 682V701M465.5 683V687M464.5 673V696M465.5 686V690M465.5 673V698M466.5 689V694M466.5 682V701M467.5 692V694M466.5 687V694M467.5 689V693M467.5 684V701M468.5 685V690M468.5 677V687M469.5 682V684M468.5 676V683M469.5 677V682M469.5 669V679M470.5 674V678M470.5 668V677M471.5 669V674M470.5 659V672M471.5 665V670M471.5 659V686M472.5 664V670M472.5 669V676M473.5 669V676M473.5 674V691M474.5 675V683M473.5 672V689M474.5 681V685M474.5 677V692M475.5 684V687M475.5 671V692M476.5 678V686M475.5 672V690M476.5 675V681M476.5 665V676M477.5 671V676M477.5 668V673M478.5 671V672M477.5 669V675M478.5 670V673M478.5 665V692M479.5 672V673M479.5 668V688M480.5 672V674M479.5 669V676M480.5 672V676M480.5 671V697M481.5 676V681M481.5 678V689M482.5 679V689M482.5 678V700M483.5 687V696M482.5 696V709M483.5 696V707M483.5 692V716M484.5 705V709M484.5 707V720M485.5 708V717M484.5 709V721M485.5 715V717M485.5 713V724M486.5 714V716M486.5 708V719M487.5 713V716M486.5 709V715M487.5 711V714M487.5 691V715M488.5 706V713M488.5 704V722M489.5 705V708M488.5 700V706M489.5 700V706M489.5 695V710M490.5 697V701M490.5 697V705M491.5 697V698M490.5 689V698M491.5 692V698M491.5 675V695M492.5 684V693M492.5 680V689M493.5 680V684M492.5 664V684M493.5 671V680M493.5 658V683M494.5 662V672M494.5 648V667M495.5 656V662M494.5 654V660M495.5 655V659M495.5 654V666M496.5 655V660M496.5 653V660M497.5 654V656M497.5 648V660M498.5 652V655M497.5 646V655M498.5 650V653M498.5 647V657M499.5 648V654M499.5 649V661M500.5 652V656M499.5 651V659M500.5 655V658M500.5 658V663M501.5 658V661M501.5 657V668M502.5 660V661M501.5 646V669M502.5 653V662M502.5 647V657M503.5 651V654M503.5 643V655M504.5 648V653M503.5 635V664M504.5 642V649M504.5 640V657M505.5 641V652M505.5 647V681M506.5 650V669M505.5 664V679M506.5 668V677M506.5 671V681M507.5 676V677M507.5 672V681M508.5 674V677M507.5 672V681M508.5 674V676M508.5 670V674M509.5 670V674M509.5 665V675M510.5 670V673M509.5 666V690M510.5 671V674M510.5 666V684M511.5 672V678M511.5 675V682M512.5 676V678M511.5 675V687M512.5 678V681M512.5 679V683M513.5 679V683M513.5 677V684M514.5 678V681M513.5 680V687M514.5 680V684M514.5 679V690M515.5 680V684M515.5 672V680M516.5 675V680M515.5 663V676M516.5 668V676M516.5 655V671M517.5 666V669M517.5 660V676M518.5 663V667M517.5 657V666M518.5 661V663M518.5 661V665M519.5 661V663M519.5 657V668M520.5 660V662M520.5 659V661M521.5 659V661M520.5 655V673M521.5 659V664M521.5 655V668M522.5 663V666M522.5 663V679M523.5 665V672M522.5 669V679M523.5 672V676M523.5 673V690M524.5 676V685M524.5 676V692M525.5 684V689M524.5 680V694M525.5 688V689M525.5 682V695M526.5 687V689M526.5 686V691M527.5 687V690M526.5 681V694M527.5 684V687M527.5 675V688M528.5 680V684M528.5 676V686M529.5 681V683M528.5 675V689M529.5 681V686M529.5 680V696M530.5 685V692M530.5 690V698M531.5 693V697M530.5 695V706M531.5 695V703M531.5 699V712M532.5 702V709M532.5 695V719M533.5 707V708M532.5 704V710M533.5 707V708M533.5 704V712M534.5 707V711M534.5 700V718M535.5 712V718M534.5 711V721M535.5 717V719M535.5 713V723M536.5 717V720M536.5 716V732M537.5 719V725M536.5 716V733M537.5 725V729M537.5 716V736M538.5 728V736M538.5 731V740M539.5 736V738M538.5 735V743M539.5 736V738M539.5 737V741M540.5 738V739M540.5 736V741M541.5 737V738M541.5 731V741M542.5 735V737M541.5 731V739M542.5 734V738M542.5 733V746M543.5 736V741M543.5 734V755M544.5 741V744M543.5 732V767M544.5 744V752M544.5 749V759M545.5 750V759M545.5 753V769M546.5 758V763M545.5 749V764M546.5 755V761M546.5 740V769M547.5 748V756M547.5 740V750M548.5 742V749M547.5 727V745M548.5 736V744M548.5 729V742M549.5 734V738M549.5 724V744M550.5 729V735M549.5 719V732M550.5 727V729M550.5 709V733M551.5 724V728M551.5 716V726M552.5 721V726M551.5 719V732M552.5 720V722M552.5 709V724M553.5 716V723M553.5 715V718M554.5 716V717M553.5 711V719M554.5 716V717M554.5 709V721M555.5 716V719M555.5 715V722M556.5 717V721M555.5 714V730M556.5 720V729M556.5 727V745M557.5 728V736M557.5 730V747M558.5 736V741M557.5 740V752M558.5 741V750M558.5 744V779M559.5 748V759M559.5 755V777M560.5 758V768M559.5 762V786M560.5 768V785M560.5 785V809M561.5 785V804M561.5 797V810M562.5 801V805M561.5 793V811M562.5 795V801M562.5 789V804M563.5 793V796M563.5 784V794M564.5 788V793M564.5 780V803M565.5 785V791M564.5 779V787M565.5 784V786M565.5 775V798M566.5 779V785M566.5 774V780M567.5 776V779M566.5 761V786M567.5 769V776M567.5 760V774M568.5 761V770M568.5 751V764M569.5 754V762M568.5 748V766M569.5 754V758M569.5 748V766M570.5 758V761M570.5 747V765M571.5 760V763M570.5 759V766M571.5 760V762M571.5 741V773M572.5 759V761M572.5 757V767M573.5 759V766M572.5 761V800M573.5 764V791M573.5 788V794M574.5 788V789M574.5 765V793M575.5 768V788M574.5 751V774M575.5 752V769M575.5 735V758M576.5 736V754M576.5 723V740M577.5 727V737M576.5 726V738M577.5 727V732M577.5 730V746M578.5 730V733M578.5 732V749M579.5 733V735M578.5 733V740M579.5 735V740M579.5 736V751M580.5 738V745M580.5 733V750M581.5 744V748M580.5 734V758M581.5 748V753M581.5 751V774M582.5 752V758M582.5 755V766M583.5 756V761M582.5 760V772M583.5 760V769M583.5 758V777M584.5 768V772M584.5 768V779M585.5 768V772M585.5 766V777M586.5 766V769M585.5 765V773M586.5 767V770M586.5 762V772M587.5 768V770M587.5 763V774M588.5 769V771M587.5 742V773M588.5 768V770M588.5 769V774M589.5 769V774M589.5 758V780M590.5 774V776M589.5 755V783M590.5 764V777M590.5 752V770M591.5 755V765M591.5 739V762M592.5 745V755M591.5 734V753M592.5 737V745M592.5 691V739M593.5 728V738M593.5 689V729M594.5 716V728M593.5 709V720M594.5 711V717M594.5 701V726M595.5 704V711M595.5 691V708M596.5 693V705M595.5 686V699M596.5 688V694M596.5 681V696M597.5 683V690M597.5 675V687M598.5 681V684M597.5 677V691M598.5 677V683M598.5 673V684M599.5 674V678M599.5 668V683M600.5 671V675M599.5 668V675M600.5 671V673M600.5 668V679M601.5 673V675M601.5 665V680M602.5 674V679M601.5 674V687M602.5 679V683M602.5 679V688M603.5 682V688M603.5 673V694M604.5 686V691M603.5 676V696M604.5 689V692M604.5 680V696M605.5 690V695M605.5 692V705M606.5 694V703M605.5 700V713M606.5 703V711M606.5 707V722M607.5 708V720M607.5 718V737M608.5 720V728M608.5 722V737M609.5 726V733M608.5 723V739M609.5 732V734M609.5 730V743M610.5 733V741M610.5 740V752M611.5 740V744M610.5 736V748M611.5 743V746M611.5 731V750M612.5 744V748M612.5 744V749M613.5 745V748M612.5 742V750M613.5 744V746M613.5 743V752M614.5 743V746M614.5 735V746M615.5 743V744M614.5 734V746M615.5 741V744M615.5 734V750M616.5 741V747M616.5 745V764M617.5 746V754M616.5 742V766M617.5 754V758M617.5 756V763M618.5 756V762M618.5 758V769M619.5 762V768M618.5 759V777M619.5 766V771M619.5 756V778M620.5 770V774M620.5 749V781M621.5 772V779M620.5 775V784M621.5 778V783M621.5 780V792M622.5 781V784M622.5 765V786M623.5 782V784M622.5 781V797M623.5 783V791M623.5 785V795M624.5 788V792M624.5 777V797M625.5 782V790M624.5 767V795M625.5 778V783M625.5 768V779M626.5 776V777M626.5 772V780M627.5 773V776M626.5 763V775M627.5 766V774M627.5 765V783M628.5 765V767M628.5 756V780M629.5 764V766M629.5 759V769M630.5 761V764M629.5 754V769M630.5 759V761M630.5 749V766M631.5 755V761M631.5 750V757M632.5 752V756M631.5 739V758M632.5 750V753M632.5 743V755M633.5 743V751M633.5 737V749M634.5 743V745M633.5 742V745M634.5 743V744M634.5 737V750M635.5 742V745M635.5 737V747M636.5 743V746M635.5 742V758M636.5 745V749M636.5 746V752M637.5 748V751M637.5 743V758M638.5 749V752M637.5 749V757M638.5 750V752M638.5 749V755M639.5 750V752M639.5 746V754M640.5 750V753M639.5 746V753M640.5 748V750M640.5 746V752M641.5 748V750M641.5 748V752M642.5 749V750M641.5 749V754M642.5 750V754M642.5 750V758M643.5 752V754M643.5 746V757M644.5 751V757M643.5 757V761M644.5 757V761M644.5 756V766M645.5 760V764M645.5 761V776M646.5 763V770M645.5 759V774M646.5 767V771M646.5 768V775M647.5 769V772M647.5 765V777M648.5 766V770M647.5 764V769M648.5 764V767M648.5 759V765M649.5 760V765M649.5 756V763M650.5 757V762M649.5 746V775M650.5 755V758M650.5 751V771M651.5 752V757M651.5 744V757M652.5 747V752M652.5 737V755M653.5 740V748M652.5 738V744M653.5 738V742M653.5 728V739M654.5 732V738M654.5 730V734M655.5 730V732M654.5 729V745M655.5 729V736M655.5 734V748M656.5 735V739M656.5 729V745M657.5 738V744M656.5 737V760M657.5 744V748M657.5 747V757M658.5 748V754M658.5 728V761M659.5 751V757M658.5 749V768M659.5 755V760M659.5 757V769M660.5 759V761M660.5 758V772M661.5 760V764M660.5 762V775M661.5 763V770M661.5 769V778M662.5 770V775M662.5 774V786M663.5 774V778M662.5 774V783M663.5 776V780M663.5 772V781M664.5 774V780M664.5 761V778M665.5 770V775M664.5 762V774M665.5 763V770M665.5 760V766M666.5 763V764M666.5 758V767M667.5 761V763M666.5 753V768M667.5 759V762M667.5 750V762M668.5 757V759M668.5 755V759M669.5 755V757M669.5 747V770M670.5 756V758M669.5 750V761M670.5 754V758M670.5 751V758M671.5 754V756M671.5 748V766M672.5 755V760M671.5 755V765M672.5 758V765M672.5 759V782M673.5 763V773M673.5 768V777M674.5 772V776M673.5 767V778M674.5 775V777M674.5 774V777M675.5 774V776M675.5 773V778M676.5 775V776M675.5 773V784M676.5 776V779M676.5 777V782M677.5 777V780M677.5 771V783M678.5 779V781M677.5 779V791M678.5 781V786M678.5 775V803M679.5 785V790M679.5 781V794M680.5 789V793M679.5 786V798M680.5 791V795M680.5 786V801M681.5 793V795M681.5 791V807M682.5 793V798M681.5 784V798M682.5 796V798M682.5 795V800M683.5 795V799M683.5 798V813M684.5 799V800M684.5 795V825M685.5 798V822M684.5 821V854M685.5 822V851M685.5 842V854M686.5 846V852M686.5 816V848M687.5 845V847M686.5 826V852M687.5 840V845M687.5 836V847M688.5 838V840M688.5 834V844M689.5 837V840M688.5 826V846M689.5 835V838M689.5 833V841M690.5 835V840M690.5 832V846M691.5 839V843M690.5 827V843M691.5 838V842M691.5 833V844M692.5 840V842M692.5 829V850M693.5 841V846M692.5 842V852M693.5 843V847M693.5 829V852M694.5 839V845M694.5 834V841M695.5 835V840M694.5 826V838M695.5 827V836M695.5 823V832M696.5 823V829M696.5 814V834M697.5 821V826M696.5 806V826M697.5 815V822M697.5 805V830M698.5 813V817M698.5 811V823M699.5 812V815M699.5 794V816M700.5 803V812M699.5 794V808M700.5 795V804M700.5 787V802M701.5 789V797M701.5 785V792M702.5 786V790M701.5 780V797M702.5 783V787M702.5 780V789M703.5 784V788M703.5 784V792M704.5 787V791M703.5 790V797M704.5 791V795M704.5 780V806M705.5 794V804M705.5 802V809M706.5 805V807M705.5 802V810M706.5 807V808M706.5 789V813M707.5 808V813M707.5 812V819M708.5 814V815M707.5 814V820M708.5 814V815M708.5 811V825M709.5 815V820M709.5 818V825M710.5 819V823M709.5 821V828M710.5 822V824M710.5 823V826M711.5 825V826M711.5 823V833M712.5 825V830M711.5 827V834M712.5 828V831M712.5 816V834M713.5 825V831M713.5 819V837M714.5 821V827M713.5 813V825M714.5 816V822M714.5 802V821M715.5 807V817M715.5 801V813M716.5 802V806M715.5 797V808M716.5 798V802M716.5 795V800M717.5 796V800M717.5 792V800M718.5 795V797M718.5 788V796M719.5 794V795M718.5 795V803M719.5 796V802M719.5 799V814M720.5 801V807M720.5 788V815M721.5 806V814M720.5 806V826M721.5 814V821M721.5 817V826M722.5 819V822M722.5 815V825M723.5 815V823M722.5 803V820M723.5 809V818M723.5 804V814M724.5 804V810M724.5 791V809M725.5 797V806M724.5 788V800M725.5 790V797M725.5 780V793M726.5 783V790M726.5 764V785M727.5 777V784M726.5 768V779M727.5 773V778M727.5 767V768M728.5 768V775M728.5 762V770M729.5 765V769M728.5 759V767M729.5 764V767M729.5 759V770M730.5 765V768M730.5 763V770M731.5 768V769M730.5 768V776M731.5 769V772M731.5 763V781M732.5 771V773M732.5 763V775M733.5 771V774M732.5 769V800M733.5 773V775M733.5 773V779M734.5 774V778M734.5 777V785M735.5 778V783M734.5 779V794M735.5 782V791M735.5 783V805M736.5 789V797M736.5 794V804M737.5 796V803M736.5 798V818M737.5 803V813M737.5 805V824M738.5 812V822M738.5 814V843M739.5 820V825M738.5 824V828M739.5 824V826M739.5 820V831M740.5 826V830M740.5 820V835M741.5 828V833M741.5 820V834M742.5 832V834M741.5 829V840M742.5 834V839M742.5 835V842M743.5 840V841M743.5 835V842M744.5 841V842M743.5 839V846M744.5 842V845M744.5 842V854M745.5 844V846M745.5 843V870M746.5 846V848M745.5 842V852M746.5 847V851M746.5 846V864M747.5 850V854M747.5 853V867M748.5 854V855M747.5 850V877M748.5 854V859M748.5 854V867M749.5 858V862M749.5 856V869M750.5 862V867M749.5 864V871M750.5 867V870M750.5 866V877M751.5 867V871M751.5 853V875M752.5 868V870M751.5 862V869M752.5 863V868M752.5 860V866M753.5 861V865M753.5 851V877M754.5 858V861M753.5 851V869M754.5 858V860M754.5 855V866M755.5 859V861M755.5 852V863M756.5 861V862M755.5 859V866M756.5 861V865M756.5 864V871M757.5 864V866M757.5 861V870M758.5 865V868M757.5 859V874M758.5 866V871M758.5 869V872M759.5 870V872M759.5 857V876M760.5 866V871M759.5 854V870M760.5 863V866M760.5 854V863M761.5 862V863M761.5 854V867M762.5 861V863M762.5 851V864M763.5 860V863M762.5 859V868M763.5 860V865M763.5 855V866M764.5 862V864M764.5 860V871M765.5 862V865M764.5 861V870M765.5 863V865M765.5 854V865M766.5 858V865M766.5 845V869M767.5 848V859M766.5 839V861M767.5 839V849M767.5 822V841M768.5 832V840M768.5 828V837M769.5 831V833M768.5 826V838M769.5 830V834M769.5 822V845M770.5 833V836M770.5 830V846M771.5 833V840M770.5 826V845M771.5 839V843M771.5 836V843M772.5 840V842M772.5 835V847M773.5 841V842M772.5 833V842M773.5 839V841M773.5 832V841M774.5 833V840M774.5 827V833M775.5 830V833M774.5 824V832M775.5 829V832M775.5 819V849M776.5 825V831M776.5 821V827M777.5 821V826M776.5 813V826M777.5 818V822M777.5 811V820M778.5 814V819M778.5 808V815M779.5 810V814M778.5 799V812M779.5 805V812M779.5 802V808M780.5 802V807M780.5 796V804M781.5 798V804M780.5 787V800M781.5 791V798M781.5 779V793M782.5 780V791M782.5 766V800M783.5 770V780M782.5 752V773M783.5 757V770M783.5 736V766M784.5 738V758M784.5 716V739M785.5 719V738M785.5 703V720M786.5 710V720M785.5 702V723M786.5 710V721M786.5 719V738M787.5 720V732M787.5 730V749M788.5 731V744M787.5 732V756M788.5 741V752M788.5 743V757M789.5 746V751M789.5 742V753M790.5 743V747M789.5 735V748M790.5 738V744M790.5 729V743M791.5 731V739M791.5 726V736M792.5 726V730M791.5 723V731M792.5 723V728M792.5 714V732M793.5 715V724M793.5 709V723M794.5 713V716M793.5 691V718M794.5 708V714M794.5 704V716M795.5 705V710M795.5 699V711M796.5 699V706M795.5 691V702M796.5 694V700M796.5 692V704M797.5 694V698M797.5 692V703M798.5 698V703M797.5 700V708M798.5 701V705M798.5 702V707M799.5 704V705M799.5 703V707M800.5 704V706M799.5 704V710M800.5 705V710M800.5 705V715M801.5 708V712M801.5 702V717M802.5 712V715M802.5 706V719M803.5 713V719M802.5 711V728M803.5 719V724M803.5 723V741M804.5 723V727M804.5 724V733M805.5 725V731M804.5 725V749M805.5 731V736M805.5 730V740M806.5 735V740M806.5 737V746M807.5 738V743M806.5 722V749M807.5 739V743M807.5 734V747M808.5 736V741M808.5 728V749M809.5 729V738M808.5 723V733M809.5 727V730M809.5 721V728M810.5 723V728M810.5 717V733M811.5 720V726M810.5 714V726M811.5 718V721M811.5 711V725M812.5 717V718M812.5 708V722M813.5 711V719M812.5 707V715M813.5 710V713M813.5 703V717M814.5 710V711M814.5 706V723M815.5 710V712M814.5 707V715M815.5 710V712M815.5 709V714M816.5 711V712M816.5 705V724M817.5 711V713M817.5 709V720M818.5 712V717M817.5 715V728M818.5 716V723M818.5 717V732M819.5 721V724M819.5 719V729M820.5 722V724M819.5 708V728M820.5 717V723M820.5 700V720M821.5 710V718M821.5 691V715M822.5 703V712M821.5 689V705M822.5 691V704M822.5 681V692M823.5 685V691M823.5 668V686M824.5 678V685M823.5 671V679M824.5 675V678M824.5 673V684M825.5 675V679M825.5 670V693M826.5 678V684M825.5 680V696M826.5 682V691M826.5 690V696M827.5 691V696M827.5 678V707M828.5 695V701M827.5 684V703M828.5 698V701M828.5 695V702M829.5 698V700M829.5 694V703M830.5 696V700M829.5 691V701M830.5 694V698M830.5 691V707M831.5 693V695M831.5 689V696M832.5 693V694M832.5 691V702M833.5 692V698M832.5 694V721M833.5 696V706M833.5 702V720M834.5 705V715M834.5 711V725M835.5 713V721M834.5 718V737M835.5 720V727M835.5 724V736M836.5 727V734M836.5 734V742M837.5 735V738M836.5 730V755M837.5 736V747M837.5 741V750M838.5 743V748M838.5 740V747M839.5 740V746M838.5 734V742M839.5 737V741M839.5 730V746M840.5 734V739M840.5 725V737M841.5 729V736M840.5 718V733M841.5 723V730M841.5 713V729M842.5 715V725M842.5 706V719M843.5 707V714M842.5 692V710M843.5 698V708M843.5 688V713M844.5 692V699M844.5 681V695M845.5 683V692M844.5 672V709M845.5 675V683M845.5 661V678M846.5 666V676M846.5 660V673M847.5 666V672M846.5 670V681M847.5 670V680M847.5 678V690M848.5 679V689M848.5 675V699M849.5 688V694M848.5 686V705M849.5 694V700M849.5 692V705M850.5 699V704M850.5 700V712M851.5 701V704M850.5 673V704M851.5 673V702M851.5 649V679M852.5 650V675M852.5 647V667M853.5 649V651M852.5 628V668M853.5 645V650M853.5 631V646M854.5 643V646M854.5 632V644M855.5 637V643M854.5 625V641M855.5 627V638M855.5 619V631M856.5 622V628M856.5 611V623M857.5 616V622M856.5 613V621M857.5 617V619M857.5 608V627M858.5 618V624M858.5 618V631M859.5 623V630M858.5 626V635M859.5 629V635M859.5 634V644M860.5 634V643M860.5 638V651M861.5 642V647M860.5 647V653M861.5 647V650M861.5 647V651M862.5 648V651M862.5 650V655M863.5 650V652M862.5 645V651M863.5 650V651M863.5 650V656M864.5 650V652M864.5 646V658M865.5 650V651M864.5 640V652M865.5 643V651M865.5 640V654M866.5 640V644M866.5 630V646M867.5 634V641M866.5 628V635M867.5 630V635M867.5 618V635M868.5 628V632M868.5 620V630M869.5 625V629M868.5 619V629M869.5 624V627M869.5 623V647M870.5 623V629M870.5 624V635M871.5 628V631M870.5 627V636M871.5 630V633M871.5 630V644M872.5 632V636M872.5 626V643M873.5 634V636M872.5 634V641M873.5 635V638M873.5 635V644M874.5 636V637M874.5 633V641M875.5 635V639M874.5 632V644M875.5 638V640M875.5 629V641M876.5 635V640M876.5 629V638M877.5 634V635M876.5 628V637M877.5 632V636M877.5 629V639M878.5 632V635M878.5 626V647M879.5 634V637M878.5 626V654M879.5 637V641M879.5 636V648M880.5 640V645M880.5 626V650M881.5 644V647M880.5 642V658M881.5 645V651M881.5 649V656M882.5 649V656M882.5 655V662M883.5 656V660M882.5 651V669M883.5 659V662M883.5 653V670M884.5 655V664M884.5 645V668M885.5 647V657M884.5 636V651M885.5 640V648M885.5 632V643M886.5 636V642M886.5 630V643M887.5 635V641M886.5 639V650M887.5 639V644M887.5 638V652M888.5 641V648M888.5 642V656M889.5 648V653M889.5 648V667M890.5 652V654M889.5 647V667M890.5 654V656M890.5 652V667M891.5 655V658M891.5 657V664M892.5 657V661M891.5 657V665M892.5 657V661M892.5 652V658M893.5 653V658M893.5 650V655M894.5 650V654M893.5 641V655M894.5 644V651M894.5 643V648M895.5 644V647M895.5 640V650M896.5 645V648M895.5 646V666M896.5 646V651M896.5 649V657M897.5 651V655M897.5 654V669M898.5 654V657M898.5 653V660M899.5 655V659M898.5 648V688M899.5 660V679M899.5 677V702M900.5 678V694M900.5 691V708M901.5 694V701M900.5 697V713M901.5 700V703M901.5 694V707M902.5 702V705M902.5 693V715M903.5 704V711M902.5 707V717M903.5 709V711M903.5 707V713M904.5 708V711M904.5 699V714M905.5 706V709M904.5 695V715M905.5 701V708M905.5 697V713M906.5 700V703M906.5 700V704M907.5 700V702M907.5 690V704M908.5 699V701M907.5 688V703M908.5 698V702M908.5 695V702M909.5 699V701M909.5 682V702M910.5 697V700M909.5 690V704M910.5 696V698M910.5 686V698M911.5 695V697M911.5 691V704M912.5 692V697M911.5 689V701M912.5 689V693M912.5 680V700M913.5 682V692M913.5 670V683M914.5 677V683M913.5 672V680M914.5 674V678M914.5 648V695M915.5 665V676M915.5 653V670M916.5 659V666M916.5 650V662M917.5 651V660M916.5 644V656M917.5 652V655M917.5 650V696M918.5 653V694M918.5 684V733M919.5 694V730M918.5 718V736M919.5 729V732M919.5 729V736M920.5 731V735M920.5 729V742M921.5 734V738M920.5 737V743M921.5 737V740M921.5 738V757M922.5 740V746M922.5 741V766M923.5 744V751M922.5 748V757M923.5 749V753M923.5 751V761M924.5 752V757M924.5 756V762M925.5 756V760M925.5 758V769M926.5 759V764M925.5 762V769M926.5 762V767M926.5 761V774M927.5 766V769M927.5 767V776M928.5 768V773M927.5 768V777M928.5 773V776M928.5 764V779M929.5 777V778M929.5 777V780M930.5 777V780M929.5 777V783M930.5 778V784M930.5 782V792M931.5 784V787M931.5 779V802M932.5 785V794M931.5 793V812M932.5 794V801M932.5 789V807M933.5 800V803M933.5 802V812M934.5 802V806M933.5 802V812M934.5 805V806M934.5 797V815M935.5 806V808M935.5 801V812M936.5 808V810M935.5 809V813M936.5 809V812M936.5 810V817M937.5 810V813M937.5 798V813M938.5 807V811M937.5 804V813M938.5 804V808M938.5 797V817M939.5 800V807M939.5 796V802M940.5 796V801M939.5 792V798M940.5 795V798M940.5 786V796M941.5 794V795M941.5 787V796M942.5 788V794M941.5 781V797M942.5 787V790M942.5 780V797M943.5 781V789M943.5 773V783M944.5 776V781M943.5 770V777M944.5 772V777M944.5 765V774M945.5 771V773M945.5 767V778M946.5 768V773M945.5 765V774M946.5 766V770M946.5 765V768M947.5 765V767M947.5 755V766M948.5 762V765M947.5 755V764M948.5 758V764M948.5 749V765M949.5 757V759M949.5 752V765M950.5 753V758M950.5 745V761M951.5 748V754M950.5 740V753M951.5 743V750M951.5 737V755M952.5 743V746M952.5 745V755M953.5 746V752M952.5 749V757M953.5 751V755M953.5 750V769M954.5 754V758M954.5 755V769M955.5 757V762M954.5 761V769M955.5 761V762M955.5 757V765M956.5 760V763M956.5 745V763M957.5 753V761M956.5 744V762M957.5 749V754M957.5 740V751M958.5 741V748M958.5 736V749M959.5 737V742M958.5 729V748M959.5 731V738M959.5 726V736M960.5 727V732M960.5 724V728M961.5 727V728M960.5 717V730M961.5 725V727M961.5 718V729M962.5 723V726M962.5 720V727M963.5 723V725M962.5 717V727M963.5 722V723M963.5 721V729M964.5 722V728M964.5 719V733M965.5 727V732M964.5 728V738M965.5 730V735M965.5 732V741M966.5 733V734M966.5 722V741M967.5 730V733M966.5 722V735M967.5 725V730M967.5 715V727M968.5 718V727M968.5 710V719M969.5 713V718M968.5 705V715M969.5 709V714M969.5 707V714M970.5 708V712M970.5 702V717M971.5 710V714M970.5 709V717M971.5 712V716M971.5 702V723M972.5 715V722M972.5 702V728M973.5 720V725M972.5 723V733M973.5 724V728M973.5 709V731M974.5 727V730M974.5 727V743M975.5 729V737M974.5 731V743M975.5 734V742M975.5 751V758M976.5 741V747M976.5 744V755M977.5 747V751M976.5 744V751M977.5 747V751M977.5 743V750M978.5 745V750M978.5 741V752M979.5 742V745M979.5 738V748M980.5 739V743M979.5 733V741M980.5 736V741M980.5 730V741M981.5 733V736M981.5 726V736M982.5 727V734M981.5 722V733M982.5 723V728M982.5 715V726M983.5 721V723M983.5 717V726M984.5 718V723M983.5 714V720M984.5 717V720M984.5 714V720M985.5 716V719M985.5 710V721M986.5 718V720M985.5 714V723M986.5 717V719M986.5 706V726M987.5 716V720M987.5 712V717M988.5 715V716M987.5 710V719M988.5 711V716M988.5 707V712M989.5 709V711M989.5 695V716M990.5 709V711M989.5 691V710M990.5 709V710M990.5 704V714M991.5 705V710M991.5 694V708M992.5 700V706M991.5 690V706M992.5 691V701M992.5 683V693M993.5 685V693M993.5 679V687M994.5 682V687M994.5 679V691M995.5 684V686M994.5 683V702M995.5 684V689M995.5 681V700M996.5 687V689M996.5 687V692M997.5 687V689M996.5 686V701M997.5 688V692M997.5 690V698M998.5 692V693M998.5 690V696M999.5 692V695M998.5 692V699M999.5 694V698M999.5 695V702M1000.5 696V702M1000.5 694V707M1001.5 700V707M1000.5 694V723M1001.5 705V713M1001.5 705V722M1002.5 713V720M1002.5 719V730M1003.5 719V724M1002.5 724V731M1003.5 724V728M1003.5 726V742M1004.5 727V731M1004.5 729V740M1005.5 731V736M1004.5 731V743M1005.5 734V735M1005.5 717V743M1006.5 728V736M1006.5 723V743M1007.5 723V729M1006.5 718V727M1007.5 719V724M1007.5 715V724M1008.5 717V721M1008.5 714V722M1009.5 714V717M1009.5 706V718M1010.5 710V715M1009.5 700V712M1010.5 707V711M1010.5 700V714M1011.5 705V709M1011.5 700V709M1012.5 705V706M1011.5 703V708M1012.5 705V706M1012.5 704V707M1013.5 704V706M1013.5 698V707M1014.5 704V706M1013.5 700V709M1014.5 704V706M1014.5 703V709M1015.5 703V706M1015.5 697V703M1016.5 699V703M1015.5 689V702M1016.5 692V701M1016.5 683V701M1017.5 688V693M1017.5 685V699M1018.5 686V690M1017.5 678V694M1018.5 681V686M1018.5 675V688M1019.5 681V684M1019.5 679V689M1020.5 683V687M1019.5 684V689M1020.5 686V689M1020.5 685V697M1021.5 687V693M1021.5 675V700M1022.5 691V697M1021.5 690V704M1022.5 695V701M1022.5 692V708M1023.5 701V702M1023.5 698V708M1024.5 701V705M1024.5 697V707M1025.5 704V706M1024.5 706V712M1025.5 707V708M1025.5 708V718M1026.5 708V712M1026.5 710V728M1027.5 711V713M1026.5 709V719M1027.5 712V714M1027.5 713V723M1028.5 714V720M1028.5 717V726M1029.5 720V723M1028.5 721V727M1029.5 723V725M1029.5 715V731M1030.5 723V728M1030.5 724V729M1031.5 727V729M1030.5 722V735M1031.5 728V732M1031.5 727V737M1032.5 731V732M1032.5 729V745M1033.5 731V735M1032.5 729V738M1033.5 733V737M1033.5 735V745M1034.5 736V742M1034.5 741V752M1035.5 742V746M1034.5 738V752M1035.5 744V746M1035.5 739V747M1036.5 741V745M1036.5 735V751M1037.5 735V743M1036.5 731V739M1037.5 731V736M1037.5 723V736M1038.5 725V732M1038.5 718V732M1039.5 719V726M1039.5 716V724M1040.5 716V722M1039.5 712V719M1040.5 713V718M1040.5 709V715M1041.5 710V715M1041.5 706V712M1042.5 708V711M1041.5 694V711M1042.5 706V709M1042.5 703V712M1043.5 704V708M1043.5 701V709M1044.5 702V706M1043.5 695V705M1044.5 698V704M1044.5 697V701M1045.5 699V700M1045.5 699V715M1046.5 700V702M1045.5 694V705M1046.5 700V702M1046.5 700V703M1047.5 700V702M1047.5 699V704M1048.5 701V704M1047.5 697V709M1048.5 702V705M1048.5 698V707M1049.5 700V704M1049.5 695V701M1050.5 696V701M1049.5 686V710M1050.5 690V697M1050.5 683V692M1051.5 686V691M1051.5 678V688M1052.5 683V687M1051.5 678V686M1052.5 683V685M1052.5 675V685M1053.5 681V684M1053.5 676V690M1054.5 681V684M1054.5 679V685M1055.5 682V684M1054.5 680V690M1055.5 684V685M1055.5 674V688M1056.5 683V684M1056.5 670V686M1057.5 677V684M1056.5 671V682M1057.5 672V679M1057.5 662V674M1058.5 664V673M1058.5 655V668M1059.5 657V665M1058.5 640V660M1059.5 653V658M1059.5 646V675M1060.5 651V653M1060.5 647V658M1061.5 647V652M1060.5 640V651M1061.5 646V648M1061.5 635V648M1062.5 640V646M1062.5 633V647M1063.5 639V641M1062.5 625V640M1063.5 636V640M1063.5 627V639M1064.5 634V637M1064.5 625V635M1065.5 632V635M1064.5 631V641M1065.5 634V639M1065.5 637V651M1066.5 637V643M1066.5 642V652M1067.5 642V647M1066.5 642V650M1067.5 646V650M1067.5 639V658M1068.5 648V653M1068.5 649V662M1069.5 652V655M1068.5 651V658M1069.5 653V656M1069.5 652V657M1070.5 653V656M1070.5 653V658M1071.5 656V657M1070.5 653V662M1071.5 655V661M1071.5 659V662M1072.5 660V662M1072.5 651V669M1073.5 660V664M1073.5 660V671M1074.5 662V671M1073.5 668V681M1074.5 669V675M1074.5 669V688M1075.5 673V683M1075.5 678V691M1076.5 683V690M1075.5 683V695M1076.5 690V695M1076.5 684V700M1077.5 694V699M1077.5 697V702M1078.5 697V700M1077.5 689V705M1078.5 693V698M1078.5 688V697M1079.5 688V694M1079.5 682V694M1080.5 682V690M1079.5 677V697M1080.5 679V684M1080.5 674V696M1081.5 676V680M1081.5 669V677M1082.5 672V677M1081.5 672V680M1082.5 673V674M1082.5 669V679M1083.5 672V674M1083.5 670V678M1084.5 672V677M1083.5 672V682M1084.5 677V680M1084.5 669V686M1085.5 677V682M1085.5 681V688M1086.5 682V687M1085.5 681V701M1086.5 686V689M1086.5 687V694M1087.5 687V692M1087.5 690V700M1088.5 692V696M1087.5 695V697M1088.5 695V697M1088.5 694V699M1089.5 695V697M1089.5 689V700M1090.5 693V696M1089.5 690V700M1090.5 692V696M1090.5 693V701M1091.5 693V696M1091.5 693V698M1092.5 694V696M1091.5 693V696M1092.5 693V695M1092.5 690V701M1093.5 692V694M1093.5 682V701M1094.5 691V692M1093.5 682V694M1094.5 689V691M1094.5 688V698M1095.5 688V690M1095.5 682V693M1096.5 687V690M1096.5 683V688M1097.5 684V688M1096.5 680V690M1097.5 682V686M1097.5 672V681M1098.5 680V683M1098.5 677V681M1099.5 678V682M1098.5 672V679M1099.5 678V679M1099.5 676V684M1100.5 677V680M1100.5 676V685M1101.5 676V678M1100.5 672V680M1101.5 675V679M1101.5 673V678M1102.5 676V678M1102.5 675V680M1103.5 676V679M1102.5 676V687M1103.5 677V682M1103.5 672V685M1104.5 681V683M1104.5 672V690M1105.5 681V688M1104.5 687V698M1105.5 688V692M1105.5 690V710M1106.5 690V695M1106.5 692V700M1107.5 694V699M1106.5 697V705M1107.5 699V705M1107.5 702V707M1108.5 702V707M1108.5 700V713M1109.5 705V711M1108.5 710V719M1109.5 710V715M1109.5 714V722M1110.5 714V719M1110.5 697V725M1111.5 717V720M1110.5 709V720M1111.5 715V719M1111.5 709V716M1112.5 712V716M1112.5 707V713M1113.5 707V712M1112.5 705V712M1113.5 705V709M1113.5 695V710M1114.5 703V707M1114.5 695V705M1115.5 696V704M1114.5 694V711M1115.5 696V697M1115.5 693V697M1116.5 695V696M1116.5 684V698M1117.5 686V696M1116.5 675V698M1117.5 680V688M1117.5 669V686M1118.5 676V680M1117.5 667V677M1118.5 672V677M1118.5 666V673M1119.5 669V671M1119.5 661V674M1120.5 665V671M1119.5 661V669M1120.5 662V666M1120.5 655V664M1121.5 656V663M1121.5 653V658M1122.5 654V657M1121.5 647V656M1122.5 651V655M1122.5 643V654M1123.5 648V653M1123.5 641V652M1124.5 643V648M1123.5 631V645M1124.5 640V644M1124.5 637V643M1125.5 639V641M1125.5 635V643M1126.5 637V641M1125.5 627V641M1126.5 634V637M1126.5 630V640M1127.5 632V634M1127.5 628V633M1128.5 629V633M1127.5 621V630M1128.5 627V630M1128.5 623V629M1129.5 626V627M1129.5 621V628M1130.5 624V627M1129.5 618V633M1130.5 622V626M1130.5 618V633M1131.5 625V632M1131.5 624V635M1132.5 629V635M1131.5 619V639M1132.5 634V639M1132.5 638V657M1133.5 638V642M1133.5 640V652M1134.5 642V644M1133.5 641V650M1134.5 644V646M1134.5 643V651M1135.5 644V648M1135.5 645V655M1136.5 647V651M1135.5 649V656M1136.5 650V655M1136.5 630V661M1137.5 654V660M1137.5 649V664M1138.5 659V661M1137.5 655V667M1138.5 656V662M1138.5 649V658M1139.5 650V658M1138.5 637V652M1139.5 645V651M1139.5 630V650M1140.5 637V646M1140.5 625V639M1141.5 631V638M1140.5 623V646M1141.5 629V631M1141.5 624V638M1142.5 628V635M1142.5 634V640M1143.5 634V638M1142.5 635V645M1143.5 636V642M1143.5 641V647M1144.5 641V645M1144.5 635V659M1145.5 645V650M1144.5 648V655M1145.5 649V655M1145.5 644V660M1146.5 654V660M1146.5 658V668M1147.5 659V665M1146.5 644V667M1147.5 660V665M1147.5 648V664M1148.5 655V663M1148.5 640V657M1149.5 647V655M1148.5 638V648M1149.5 642V647M1149.5 638V649M1150.5 641V644M1150.5 639V647M1151.5 641V645M1150.5 643V657M1151.5 643V647M1151.5 644V651M1152.5 647V649M1152.5 648V657M1153.5 648V653M1152.5 647V657M1153.5 650V653M1153.5 651V657M1154.5 652V657M1154.5 654V659M1155.5 656V657M1154.5 655V667M1155.5 655V661M1155.5 654V663M1156.5 657V661M1156.5 646V661M1157.5 650V659M1156.5 643V652M1157.5 646V651M1157.5 637V648M1158.5 641V648M1158.5 624V641M1159.5 634V641M1158.5 624V642M1159.5 631V635M1159.5 628V637M1160.5 630V633M1160.5 629V659M1161.5 633V635M1160.5 630V645M1161.5 635V640M1161.5 630V643M1162.5 638V641M1162.5 630V644M1163.5 640V643M1162.5 642V653M1163.5 643V646M1163.5 640V650M1164.5 640V647M1164.5 633V647M1165.5 635V642M1164.5 626V638M1165.5 630V637M1165.5 621V632M1166.5 624V632M1166.5 618V629M1167.5 623V627M1166.5 624V635M1167.5 626V631M1167.5 623V634M1168.5 630V634M1168.5 631V639M1169.5 633V636M1168.5 631V636M1169.5 633V634M1169.5 632V637M1170.5 634V636M1170.5 632V639M1171.5 634V637M1170.5 634V652M1171.5 636V641M1171.5 636V644M1172.5 639V643M1172.5 641V648M1173.5 642V646M1172.5 643V655M1173.5 645V650M1173.5 636V656M1174.5 650V655M1174.5 653V657M1175.5 653V656M1174.5 653V668M1175.5 656V662M1175.5 644V670M1176.5 661V663M1176.5 652V670M1177.5 661V663M1176.5 655V664M1177.5 660V662M1177.5 658V667M1178.5 660V664M1178.5 660V670M1179.5 661V664M1178.5 658V684M1179.5 660V663M1179.5 656V666M1180.5 657V661M1180.5 652V660M1181.5 657V659M1180.5 654V668M1181.5 658V663M1181.5 661V665M1182.5 663V665M1182.5 661V674M1183.5 664V670M1182.5 667V674M1183.5 669V670M1183.5 667V683M1184.5 670V674M1184.5 668V677M1185.5 673V677M1184.5 667V683M1185.5 675V678M1185.5 674V684M1186.5 675V679M1186.5 673V681M1187.5 674V677M1186.5 673V675M1187.5 674V675M1187.5 670V676M1188.5 674V676M1188.5 666V677M1189.5 674V676M1188.5 666V676M1189.5 672V674M1189.5 672V675M1190.5 672V673M1190.5 669V678M1191.5 673V676M1190.5 674V675M1191.5 675V677M1191.5 676V677M1192.5 676V677M1192.5 674V675M1193.5 675V677M1192.5 672V679M1193.5 673V676M1193.5 672V676M1194.5 673V675M1194.5 669V676M1195.5 671V674M1194.5 668V672M1195.5 670V672M1195.5 670V677M1196.5 671V673M1196.5 670V674M1197.5 671V673M1196.5 669V675M1197.5 672V673M1197.5 669V686M1198.5 672V680M1198.5 673V696M1199.5 679V686M1199.5 681V695M1200.5 684V693M1199.5 690V692M1200.5 690V692M1200.5 680V704M1201.5 691V697M1201.5 692V705M1202.5 696V697M1201.5 685V702M1202.5 696V699M1202.5 695V705M1203.5 698V701M1203.5 697V704M1204.5 700V704M1203.5 699V709M1204.5 703V704M1204.5 698V714M1205.5 702V705M1205.5 702V712M1206.5 702V705M1205.5 700V705M1206.5 701V705M1206.5 700V708M1207.5 704V705M1207.5 702V711M1208.5 702V707M1207.5 705V715M1208.5 707V713M1208.5 700V715M1209.5 713V715M1209.5 711V722M1210.5 713V718M1209.5 717V728M1210.5 717V721M1210.5 719V727M1211.5 719V722M1211.5 718V727M1212.5 721V724M1211.5 723V727M1212.5 724V727M1212.5 723V734M1213.5 725V729M1213.5 726V731M1214.5 728V730M1214.5 722V733M1215.5 729V732M1214.5 730V735M1215.5 731V734M1215.5 730V739M1216.5 732V736M1216.5 731V741M1217.5 734V739M1216.5 729V740M1217.5 737V739M1217.5 736V741M1218.5 737V738M1218.5 729V739M1219.5 735V737M1218.5 732V740M1219.5 734V737M1219.5 732V741M1220.5 734V736M1220.5 734V745M1221.5 735V738M1220.5 738V741M1221.5 738V740M1221.5 734V750M1222.5 739V744M1222.5 741V749M1223.5 743V746M1222.5 746V752M1223.5 746V750M1223.5 746V753M1224.5 749V753M1224.5 750V757M1225.5 752V755M1224.5 753V755M1225.5 753V755M1225.5 753V764M1226.5 754V756M1226.5 749V769M1227.5 753V768M1226.5 762V786M1227.5 765V782M1227.5 779V786M1228.5 780V782M1228.5 771V781M1229.5 775V780M1229.5 767V778M1230.5 770V775M1229.5 760V783M1230.5 763V771M1230.5 746V765M1231.5 755V764M1231.5 746V761M1232.5 750V756M1231.5 749V754M1232.5 750V753M1232.5 743V757M1233.5 751V752M1233.5 746V753M1234.5 749V751M1233.5 745V757M1234.5 748V750M1234.5 742V751M1235.5 748V751M1235.5 742V752M1236.5 750V752M1235.5 745V754M1236.5 750V753M1236.5 742V755M1237.5 751V754M1237.5 743V756M1238.5 750V751M1237.5 745V752M1238.5 750V751M1238.5 746V757M1239.5 751V753M1239.5 742V756M1240.5 748V751M1239.5 748V753M1240.5 749V750M1240.5 748V756M1241.5 749V751M1241.5 747V756M1242.5 748V750M1241.5 745V754M1242.5 748V750M1242.5 745V753M1243.5 747V752M1243.5 746V754M1244.5 751V754M1243.5 752V759M1244.5 752V756M1244.5 745V762M1245.5 755V759M1245.5 755V764M1246.5 757V759M1245.5 748V765M1246.5 758V759M1246.5 756V760M1247.5 758V760M1247.5 755V763M1248.5 759V762M1248.5 755V765M1249.5 760V761M1248.5 748V768M1249.5 761V763M1249.5 757V769M1250.5 761V764M1250.5 757V765M1251.5 761V762M1250.5 757V769M1251.5 760V762M1251.5 760V767M1252.5 760V763M1252.5 759V767M1253.5 761V764M1252.5 753V763M1253.5 758V762M1253.5 751V760M1254.5 752V759M1254.5 745V756M1255.5 745V753M1254.5 736V751M1255.5 740V746M1255.5 729V742M1256.5 734V740M1256.5 728V737M1257.5 733V736M1256.5 720V735M1257.5 733V735M1257.5 720V742M1258.5 730V735M1258.5 724V732M1259.5 727V731M1258.5 721V736M1259.5 728V730M1259.5 726V738M1260.5 727V731M1260.5 724V733M1261.5 727V729M1260.5 723V742M1261.5 726V729M1261.5 721V730M1262.5 725V728M1262.5 725V733M1263.5 728V731M1262.5 729V739M1263.5 731V735M1263.5 735V738M1264.5 735V737M1264.5 736V738M1265.5 737V738M1264.5 733V740M1265.5 737V738M1265.5 734V743M1266.5 737V739M1266.5 730V739M1267.5 731V738M1266.5 725V733M1267.5 729V732M1267.5 726V740M1268.5 729V738M1268.5 734V741M1269.5 737V741M1268.5 739V747M1269.5 740V745M1269.5 735V760M1270.5 743V748M1270.5 747V760M1271.5 748V753M1271.5 747V753M1272.5 751V753M1271.5 741V758M1272.5 745V753M1272.5 742V750M1273.5 742V746M1273.5 736V747M1274.5 740V744M1273.5 731V741M1274.5 735V740M1274.5 729V741M1275.5 733V736M1275.5 733V740M1276.5 733V737M1275.5 732V737M1276.5 735V737M1276.5 720V738M1277.5 734V737M1277.5 731V743M1278.5 734V736M1277.5 734V743M1278.5 735V737M1278.5 726V743M1279.5 736V738M1279.5 730V741M1280.5 731V737M1279.5 724V737M1280.5 727V732M1280.5 717V733M1281.5 724V728M1281.5 721V726M1282.5 722V725M1281.5 718V724M1282.5 721V723M1282.5 713V727M1283.5 718V723M1283.5 716V727M1284.5 718V720M1283.5 714V725M1284.5 719V721M1284.5 716V726M1285.5 716V721M1285.5 702V721M1286.5 715V718M1285.5 714V718M1286.5 714V716M1286.5 708V723M1287.5 710V716M1287.5 702V710M1288.5 708V710M1287.5 705V719M1288.5 706V708M1288.5 696V711M1289.5 703V708M1289.5 701V710M1290.5 702V704M1289.5 692V704M1290.5 700V704M1290.5 693V711M1291.5 695V702M1291.5 687V698M1292.5 692V696M1291.5 681V698M1292.5 688V693M1292.5 684V699M1293.5 687V688M1292.5 685V692M1293.5 685V687M1293.5 679V696M1294.5 682V686M1294.5 672V682M1295.5 678V681M1294.5 678V691M1295.5 679V682M1295.5 680V690M1296.5 680V684M1296.5 681V687M1297.5 682V684M1296.5 679V687M1297.5 683V685M1297.5 679V688M1298.5 683V685M1298.5 678V693M1299.5 684V685M1298.5 680V685M1299.5 683V685M1299.5 682V688M1300.5 682V684M1300.5 677V693M1301.5 681V682M1300.5 679V691M1301.5 680V683M1301.5 679V689M1302.5 682V686M1302.5 682V687M1303.5 683V686M1302.5 671V687M1303.5 683V686M1303.5 680V692M1304.5 685V687M1304.5 684V689M1305.5 684V687M1304.5 672V688M1305.5 680V685M1305.5 668V683M1306.5 673V681M1306.5 665V673M1307.5 668V673M1306.5 662V672M1307.5 663V671M1307.5 660V665M1308.5 660V663M1308.5 654V668M1309.5 658V662M1308.5 658V666M1309.5 658V660M1309.5 658V668M1310.5 659V663M1310.5 659V667M1311.5 661V662M1310.5 660V669M1311.5 661V664M1311.5 661V669M1312.5 662V665M1312.5 656V670M1313.5 662V665M1312.5 663V670M1313.5 663V665M1313.5 657V668M1314.5 662V664M1313.5 649V670M1314.5 662V665M1314.5 659V670M1315.5 660V665M1315.5 653V661M1316.5 654V660M1315.5 649V658M1316.5 649V656M1316.5 643V652M1317.5 645V651M1317.5 637V662M1318.5 640V646M1317.5 638V646M1318.5 640V642M1318.5 637V646M1319.5 640V645M1319.5 641V650M1320.5 644V648M1319.5 640V659M1320.5 648V653M1320.5 650V661M1321.5 651V656M1321.5 634V662M1322.5 655V662M1321.5 661V671M1322.5 661V670M1322.5 668V681M1323.5 669V677M1323.5 671V684M1324.5 676V684M1323.5 683V688M1324.5 684V685M1324.5 681V687M1325.5 681V684M1325.5 681V686M1326.5 681V683M1325.5 674V682M1326.5 680V682M1326.5 669V686M1327.5 674V680M1327.5 667V678M1328.5 671V676M1327.5 666V679M1328.5 667V671M1328.5 652V672M1329.5 665V668M1329.5 662V671M1330.5 663V666M1330.5 660V667M1331.5 661V665M1330.5 655V662M1331.5 661V662M1331.5 657V668M1332.5 660V663M1332.5 653V668M1333.5 659V661M1332.5 654V665M1333.5 657V659M1333.5 656V663M1334.5 659V662M1334.5 661V669M1335.5 662V665M1334.5 664V671M1335.5 664V671M1335.5 667V676M1336.5 670V676M1336.5 672V682M1337.5 674V679M1336.5 674V681M1337.5 677V678M1337.5 668V693M1338.5 676V678M1338.5 672V678M1339.5 674V676M1338.5 666V676M1339.5 671V675M1339.5 667V673M1340.5 670V672M1340.5 669V678M1341.5 671V674M1340.5 666V681M1341.5 675V679M1341.5 664V687M1342.5 678V685M1342.5 683V687M1343.5 684V687M1342.5 676V689M1343.5 685V688M1343.5 687V696M1344.5 688V692M1344.5 686V694M1345.5 689V691M1345.5 685V691M1346.5 689V691M1345.5 685V698M1346.5 689V692M1346.5 685V699M1347.5 691V693M1347.5 685V692M1348.5 689V692M1347.5 688V696M1348.5 691V692M1348.5 687V696M1349.5 690V692M1349.5 685V697M1350.5 690V692M1349.5 685V697M1350.5 689V693M1350.5 689V694M1351.5 692V693M1351.5 690V702M1352.5 692V694M1351.5 691V699M1352.5 694V696M1352.5 692V702M1353.5 693V695M1353.5 675V695M1354.5 690V694M1353.5 681V692M1354.5 688V691M1354.5 677V692M1355.5 683V689M1355.5 679V687M1356.5 682V684M1355.5 668V686M1356.5 679V683M1356.5 675V683M1357.5 677V681M1357.5 671V686M1358.5 674V679M1357.5 668V685M1358.5 675V681M1358.5 675V692M1359.5 679V686M1359.5 681V689M1360.5 685V689M1360.5 679V696M1361.5 687V693M1360.5 692V696M1361.5 692V693M1361.5 677V695M1362.5 692V695M1362.5 692V700M1363.5 692V695M1362.5 688V699M1363.5 694V696M1363.5 690V697M1364.5 693V695M1364.5 689V695M1365.5 689V694M1364.5 684V693M1365.5 687V691M1365.5 677V691M1366.5 684V688M1366.5 668V700M1367.5 676V685M1366.5 664V682M1367.5 665V679M1367.5 654V667M1368.5 657V665M1368.5 648V659M1369.5 651V658M1368.5 645V651M1369.5 648V650M1369.5 637V659M1370.5 642V650M1370.5 630V652M1371.5 641V643M1370.5 629V653M1371.5 640V645M1371.5 643V661M1372.5 644V650M1372.5 645V655M1373.5 647V649M1372.5 638V652M1373.5 640V649M1373.5 624V640M1374.5 632V640M1374.5 621V638M1375.5 624V633M1374.5 603V632M1375.5 613V625M1375.5 599V618M1376.5 601V614M1376.5 575V602M1377.5 587V602M1376.5 562V592M1377.5 568V589M1377.5 562V572M1378.5 569V571M1378.5 569V583M1379.5 570V579M1379.5 576V592M1380.5 578V583M1379.5 576V587M1380.5 577V581M1380.5 559V578M1381.5 573V577M1381.5 564V577M1382.5 569V574M1381.5 565V578M1382.5 568V571M1382.5 568V582M1383.5 569V578M1383.5 574V583M1384.5 576V582M1383.5 579V597M1384.5 582V591M1384.5 586V602M1385.5 590V599M1385.5 584V599M1386.5 585V597M1385.5 569V592M1386.5 576V587M1386.5 562V588M1387.5 571V576M1387.5 564V575M1388.5 570V572M1387.5 567V575M1388.5 568V571M1388.5 558V576M1389.5 563V570M1389.5 557V565M1390.5 560V564M1389.5 551V562M1390.5 555V561M1390.5 549V560M1391.5 554V557M1391.5 553V574M1392.5 554V568M1391.5 560V579M1392.5 567V571M1392.5 561V574M1393.5 570V574M1393.5 563V584M1394.5 572V579M1393.5 577V588M1394.5 578V582M1394.5 571V588M1395.5 575V582M1395.5 568V578M1396.5 569V577M1395.5 560V576M1396.5 564V569M1396.5 554V567M1397.5 555V566M1397.5 545V558M1398.5 545V556M1397.5 524V548M1398.5 529V547M1398.5 515V532M1399.5 518V532M1399.5 497V522M1400.5 500V519M1399.5 482V502M1400.5 495V501M1400.5 482V500M1401.5 491V496M1401.5 485V495M1402.5 490V493M1402.5 484V499M1403.5 490V499M1402.5 492V502M1403.5 498V502M1403.5 497V518M1404.5 502V514M1404.5 508V523M1405.5 512V515M1404.5 510V520M1405.5 511V514M1405.5 499V516M1406.5 501V515M1406.5 474V505M1407.5 485V502M1406.5 466V488M1407.5 474V487M1407.5 462V475M1408.5 471V475M1408.5 466V488M1409.5 472V477M1408.5 472V485M1409.5 476V484M1409.5 478V495M1410.5 482V491M1410.5 481V495M1411.5 481V491M1410.5 478V486M1411.5 480V482M1411.5 471V493M1412.5 476V482M1412.5 469V479M1413.5 470V478M1412.5 462V476M1413.5 468V472M1413.5 467V491M1414.5 468V485M1414.5 481V521M1415.5 484V507M1414.5 504V520M1415.5 507V515M1415.5 512V526M1416.5 515V517M1416.5 507V522M1417.5 515V518M1417.5 498V524M1418.5 514V518M1417.5 506V521M1418.5 510V516M1418.5 502V514M1419.5 505V510M1419.5 498V507M1420.5 504V506M1419.5 501V515M1420.5 504V510M1420.5 509V524M1421.5 509V518M1421.5 511V530M1422.5 515V519M1421.5 491V526M1422.5 498V516M1422.5 481V500M1423.5 488V499M1423.5 482V512M1424.5 487V499M1423.5 488V512M1424.5 498V509M1424.5 503V527M1425.5 506V525M1425.5 521V543M1426.5 522V537M1426.5 522V538M1427.5 524V537M1426.5 513V531M1427.5 514V525M1427.5 494V527M1428.5 503V514M1428.5 481V507M1429.5 502V504M1428.5 502V529M1429.5 503V509M1429.5 500V512M1430.5 508V512M1430.5 508V529M1431.5 511V516M1430.5 496V523M1431.5 515V520M1431.5 509V523M1432.5 517V518M1432.5 503V521M1433.5 515V518M1432.5 512V522M1433.5 516V517M1433.5 512V519M1434.5 517V519M1434.5 517V523M1435.5 518V521M1435.5 504V529M1436.5 520V523M1435.5 513V524M1436.5 514V524M1436.5 495V520M1437.5 510V516M1437.5 495V519M1438.5 506V511M1437.5 498V511M1438.5 503V507M1438.5 495V511M1439.5 502V504M1439.5 503V507M1440.5 503V504M1439.5 500V504M1440.5 502V503M1440.5 498V506M1441.5 501V503M1441.5 495V513M1442.5 503V507M1441.5 502V526M1442.5 505V516M1442.5 510V534M1443.5 515V526M1443.5 523V535M1444.5 524V534M1444.5 513V553M1445.5 534V542M1444.5 538V550M1445.5 540V548M1445.5 529V553M1446.5 546V549M1446.5 535V552M1447.5 543V549M1446.5 527V544M1447.5 535V543M1447.5 527V538M1448.5 531V535M1448.5 530V536M1449.5 531V532M1448.5 528V538M1449.5 528V532M1449.5 528V533M1450.5 529V531M1450.5 525V537M1451.5 531V534M1450.5 530V556M1451.5 532V538M1451.5 529V547M1452.5 536V543M1452.5 538V549M1453.5 541V545M1453.5 523V552M1454.5 543V548M1453.5 535V552M1454.5 543V547M1454.5 533V548M1455.5 538V544M1455.5 530V543M1456.5 532V539M1455.5 528V549M1456.5 531V533M1456.5 528V535M1457.5 531V534M1457.5 526V536M1458.5 530V535M1457.5 520V536M1458.5 530V531M1458.5 526V547M1459.5 530V533M1459.5 527V543M1460.5 535V537M1459.5 526V540M1460.5 532V537M1460.5 525V541M1461.5 529V534M1461.5 519V541M1462.5 522V531M1461.5 522V529M1462.5 522V526M1462.5 519V528M1463.5 523V526M1463.5 519V528M1464.5 523V525M1463.5 520V525M1464.5 521V524M1464.5 517V523M1465.5 521V523M1465.5 516V543M1466.5 521V524M1465.5 514V526M1466.5 519V523M1466.5 515V526M1467.5 516V521M1467.5 512V523M1468.5 514V518M1467.5 502V526M1468.5 511V515M1468.5 479V516M1469.5 505V512M1469.5 497V513M1470.5 499V506M1469.5 493V500M1470.5 493V500M1470.5 476V501M1471.5 477V495M1471.5 439V479M1472.5 458V479M1471.5 420V462M1472.5 442V459M1472.5 423V448M1473.5 424V443M1473.5 418V437M1474.5 424V437M1473.5 435V454M1474.5 436V451M1474.5 449V483M1475.5 449V464M1475.5 464V488M1476.5 464V474M1475.5 461V480M1476.5 473V474M1476.5 469V476M1477.5 473V474M1477.5 463V473M1478.5 472V473M1477.5 464V480M1478.5 469V473M1478.5 455V480M1479.5 464V470M1478.5 455V467M1479.5 462V465M1479.5 452V466M1480.5 458V462M1480.5 451V465M1481.5 451V460M1480.5 448V455M1481.5 452V454M1481.5 446V463M1482.5 449V453M1482.5 444V451M1483.5 446V450M1482.5 441V450M1483.5 444V448M1483.5 437V449M1484.5 441V446M1484.5 434V462M1485.5 441V449M1484.5 440V461M1485.5 449V451M1485.5 446V470M1486.5 451V462M1486.5 455V472M1487.5 461V465M1486.5 459V472M1487.5 460V465M1487.5 447V467M1488.5 456V462M1488.5 439V472M1489.5 452V457M1488.5 444V456M1489.5 448V454M1489.5 446V452M1490.5 448V449M1490.5 444V450M1491.5 447V449M1490.5 446V452M1491.5 447V449M1491.5 423V449M1492.5 434V447M1492.5 425V439M1493.5 427V435M1492.5 410V447M1493.5 416V428M1493.5 395V419M1494.5 402V416M1494.5 371V404M1495.5 385V402M1494.5 371V387M1495.5 374V386M1495.5 358V390M1496.5 361V375M1496.5 350V375M1497.5 362V372M1496.5 368V397M1497.5 372V391M1497.5 386V396M1498.5 390V393M1498.5 381V423M1499.5 390V391M1498.5 381V392M1499.5 388V391M1499.5 377V394M1500.5 378V389M1500.5 366V384M1501.5 370V379M1500.5 352V372M1501.5 364V371M1501.5 347V381M1502.5 353V364M1502.5 351V378M1503.5 354V367M1502.5 358V391M1503.5 366V382M1503.5 378V405M1504.5 380V399M1504.5 381V414M1505.5 397V409M1505.5 409V461M1506.5 409V424M1505.5 407V517M1506.5 423V491M1506.5 487V530M1507.5 490V525M1507.5 524V548M1508.5 525V536M1507.5 533V545M1508.5 535V536M1508.5 479V542M1509.5 498V536M1509.5 457V500M1510.5 459V499M1509.5 424V473M1510.5 425V459M1510.5 410V427M1511.5 411V426M1511.5 386V412M1512.5 397V411M1511.5 396V406M1512.5 397V400M1512.5 397V406M1513.5 400V405M1513.5 386V427M1514.5 404V410M1514.5 401V414M1515.5 401V409M1514.5 378V408M1515.5 385V403M1515.5 368V393M1516.5 373V387M1516.5 363V377M1517.5 367V374M1516.5 361V372M1517.5 363V367M1517.5 347V365M1518.5 359V364M1518.5 341V382M1519.5 342V360M1518.5 310V344M1519.5 320V344M1519.5 307V322M1520.5 321V322M1520.5 317V357M1521.5 319V333M1520.5 322V346M1521.5 332V344M1521.5 335V372M1522.5 342V353M1522.5 349V362M1523.5 353V360M1523.5 355V379M1524.5 359V369M1523.5 367V384M1524.5 369V376M1524.5 334V384M1525.5 352V376M1525.5 317V384M1526.5 321V354M1525.5 314V337M1526.5 321V328M1526.5 327V340M1527.5 328V336M1527.5 327V349M1528.5 335V342M1527.5 340V362M1528.5 342V349M1528.5 341V373M1529.5 349V370M1529.5 363V379M1530.5 367V370M1529.5 362V367M1530.5 362V367M1530.5 357V365M1531.5 361V362M1531.5 354V376M1532.5 354V361M1532.5 335V361M1533.5 343V357M1532.5 332V352M1533.5 336V344M1533.5 335V343M1534.5 336V343M1534.5 341V349M1535.5 343V344M1534.5 339V362M1535.5 342V349M1535.5 329V363M1536.5 333V350M1536.5 295V334M1537.5 308V334M1536.5 301V312M1537.5 306V309M1537.5 296V320M1538.5 306V313M1538.5 295V332M1539.5 311V323M1538.5 316V334M1539.5 322V330M1539.5 310V345M1540.5 328V337M1540.5 334V363M1541.5 337V349M1541.5 341V365M1542.5 342V350M1541.5 330V351M1542.5 334V344M1542.5 323V357M1543.5 323V334M1543.5 313V326M1544.5 323V324M1543.5 318V347M1544.5 324V337M1544.5 317V367M1545.5 336V356M1545.5 338V376M1546.5 355V369M1545.5 352V376M1546.5 353V369M1546.5 336V357M1547.5 340V354M1547.5 326V346M1548.5 330V342M1547.5 318V336M1548.5 327V332M1548.5 304V349M1549.5 322V330M1549.5 298V331M1550.5 317V324M1549.5 317V325M1550.5 317V324M1550.5 324V333M1551.5 324V329M1551.5 317V337M1552.5 326V332M1551.5 325V340M1552.5 326V332M1552.5 316V336M1553.5 317V327M1553.5 297V329M1554.5 304V318M1553.5 277V308M1554.5 294V305M1554.5 277V297M1555.5 294V295M1555.5 291V316M1556.5 295V297M1555.5 287V301M1556.5 296V299M1556.5 278V303M1557.5 296V300M1557.5 287V302M1558.5 290V296M1557.5 284V301M1558.5 285V290M1558.5 265V298M1559.5 284V285M1559.5 271V304M1560.5 280V285M1559.5 266V293M1560.5 275V280M1560.5 270V277M1561.5 273V276M1561.5 267V275M1562.5 268V275M1561.5 257V272M1562.5 261V268M1562.5 255V262M1563.5 258V262M1563.5 248V259M1564.5 251V259M1563.5 240V267M1564.5 247V252M1564.5 224V249M1565.5 242V247M1565.5 239V261M1566.5 239V243M1565.5 227V248M1566.5 236V242M1566.5 225V246M1567.5 236V239M1567.5 231V240M1568.5 234V238M1567.5 213V242M1568.5 218V234M1568.5 200V220M1569.5 204V220M1569.5 181V205M1570.5 187V205M1569.5 144V199M1570.5 149V188M1570.5 111V159M1571.5 129V152M1571.5 126V139M1572.5 129V139M1571.5 138V154M1572.5 139V150M1572.5 136V157M1573.5 142V150M1573.5 123V144M1574.5 132V143M1573.5 107V133M1574.5 124V132M1574.5 92V126M1575.5 102V126M1575.5 50V117M1576.5 69V104M1575.5 55V78M1576.5 69V73M1576.5 71V125M1577.5 73V119M1577.5 106V177M1578.5 118V168M1577.5 152V216M1578.5 167V191M1578.5 187V217M1579.5 190V211M1579.5 174V214M1580.5 175V211M1579.5 124V188M1580.5 130V176M1580.5 116V132M1581.5 116V131M1581.5 89V118M1582.5 99V117M1581.5 95V145M1582.5 98V117M1582.5 99V163M1583.5 115V150M1583.5 103V190M1584.5 148V167M1583.5 150V179M1584.5 167V173M1584.5 158V179M1585.5 172V177M1585.5 171V186M1586.5 176V182M1585.5 124V184M1586.5 162V183M1586.5 136V172M1587.5 148V164M1587.5 126V155M1588.5 129V149M1587.5 112V136M1588.5 120V131M1588.5 109V137M1589.5 120V137M1589.5 134V163M1590.5 135V153M1589.5 142V162M1590.5 153V161M1590.5 159V172M1591.5 161V170M1591.5 161V183M1592.5 170V176M1591.5 150V183M1592.5 159V177M1592.5 146V174M1593.5 146V160M1593.5 118V149M1594.5 133V148M1593.5 124V144M1594.5 133V134M1594.5 126V141M1595.5 130V133M1595.5 128V150M1596.5 129V140M1595.5 126V155M1596.5 139V146M1596.5 142V161M1597.5 144V154M1597.5 148V176M1598.5 153V170M1597.5 163V217M1598.5 170V192M1598.5 187V230M1599.5 191V217M1599.5 200V222M1600.5 216V222M1600.5 210V229M1601.5 221V225M1600.5 215V231M1601.5 216V225M1601.5 195V221M1602.5 199V217M1602.5 193V207M1603.5 194V199M1602.5 184V201M1603.5 188V195M1603.5 184V194M1604.5 188V193M1604.5 189V210M1605.5 192V197M1604.5 184V229M1605.5 195V202M1605.5 191V203M1606.5 194V202M1606.5 181V200M1607.5 183V194M1606.5 169V188M1607.5 169V183M1607.5 161V177M1608.5 166V171M1608.5 166V182M1609.5 166V175M1608.5 174V191M1609.5 174V183M1609.5 179V192M1610.5 183V188M1610.5 183V189M1611.5 185V188M1610.5 179V186M1611.5 180V186M1611.5 167V191M1612.5 172V181M1612.5 161V174M1613.5 165V173M1612.5 159V174M1613.5 165V172M1613.5 158V180M1614.5 171V174M1614.5 169V181M1615.5 172V178M1614.5 174V189M1615.5 176V187M1615.5 185V209M1616.5 186V200M1616.5 188V211M1617.5 199V207M1616.5 203V226M1617.5 207V211M1617.5 200V216M1618.5 206V211M1618.5 184V208M1619.5 196V207M1618.5 186V202M1619.5 188V196M1619.5 165V191M1620.5 169V189M1620.5 140V176M1621.5 152V170M1620.5 134V162M1621.5 144V154M1621.5 135V202M1622.5 144V183M1622.5 182V229M1623.5 183V220M1623.5 180V225M1624.5 207V220M1623.5 187V212M1624.5 190V208M1624.5 185V204M1625.5 190V200M1625.5 198V229M1626.5 200V212M1625.5 210V216M1626.5 211V214M1626.5 196V229M1627.5 208V215M1627.5 199V241M1628.5 208V221M1627.5 218V262M1628.5 220V240M1628.5 216V256M1629.5 239V253M1629.5 249V269M1630.5 251V269M1629.5 254V289M1630.5 269V278M1630.5 273V298M1631.5 278V283M1631.5 278V297M1632.5 281V289M1631.5 260V290M1632.5 269V289M1632.5 250V275M1633.5 258V270M1633.5 241V288M1634.5 245V260M1633.5 221V246M1634.5 239V246M1634.5 218V243M1635.5 224V240M1635.5 208V232M1636.5 214V225M1635.5 212V222M1636.5 214V220M1636.5 213V233M1637.5 219V232M1637.5 219V253M1638.5 231V242M1637.5 239V253M1638.5 240V242M1638.5 225V244M1639.5 225V241M1639.5 186V236M1640.5 214V226M1639.5 203V218M1640.5 213V215M1640.5 197V219M1641.5 202V215M1641.5 178V204M1642.5 193V204M1641.5 181V210M1642.5 185V195M1642.5 178V194M1643.5 184V191M1643.5 189V199M1644.5 190V198M1643.5 165V212M1644.5 196V203M1644.5 189V208M1645.5 202V203M1645.5 180V207M1646.5 197V203M1645.5 189V204M1646.5 194V200M1646.5 172V208M1647.5 183V194M1647.5 165V197M1648.5 167V184M1647.5 151V167M1648.5 151V166M1648.5 138V156M1649.5 143V154M1649.5 136V162M1650.5 142V155M1649.5 152V174M1650.5 153V171M1650.5 170V204M1651.5 171V202M1651.5 187V252M1652.5 202V236M1651.5 225V267M1652.5 234V256M1652.5 254V259M1653.5 256V257M1653.5 248V262M1654.5 256V257M1654.5 241V259M1655.5 257V259M1654.5 254V267M1655.5 258V259M1655.5 216V267M1656.5 234V259M1656.5 203V243M1657.5 211V235M1656.5 208V226M1657.5 211V218M1657.5 210V223M1658.5 217V220M1658.5 219V236M1659.5 219V223M1658.5 205V241M1659.5 221V224M1659.5 212V238M1660.5 218V223M1660.5 211V220M1661.5 214V219M1660.5 206V222M1661.5 214V215M1661.5 203V226M1662.5 214V225M1662.5 221V242M1663.5 224V236M1662.5 229V248M1663.5 235V247M1663.5 240V283M1664.5 247V277M1664.5 257V283M1665.5 265V278M1664.5 252V273M1665.5 256V266M1665.5 244V260M1666.5 250V257M1666.5 244V258M1667.5 250V252M1666.5 246V256M1667.5 250V255M1667.5 239V265M1668.5 254V263M1668.5 259V269M1669.5 262V269M1668.5 264V283M1669.5 267V274M1669.5 270V284M1670.5 272V277M1670.5 276V287M1671.5 277V286M1670.5 280V302M1671.5 286V294M1671.5 265V301M1672.5 277V294M1672.5 253V279M1673.5 260V279M1672.5 253V281M1673.5 259V273M1673.5 270V292M1674.5 273V288M1674.5 281V310M1675.5 288V301M1674.5 292V318M1675.5 300V313M1675.5 296V348M1676.5 311V342M1676.5 340V370M1677.5 341V353M1676.5 344V363M1677.5 352V358M1677.5 325V365M1678.5 357V361M1678.5 356V370M1679.5 359V362M1678.5 344V370M1679.5 344V360M1679.5 310V350M1680.5 333V345M1680.5 313V340M1681.5 318V334M1680.5 306V325M1681.5 316V320M1681.5 302V321M1682.5 316V318M1682.5 302V318M1683.5 310V317M1683.5 305V320M1684.5 308V310M1683.5 302V318M1684.5 307V312M1684.5 306V319M1685.5 310V315M1685.5 304V322M1686.5 314V321M1685.5 302V330M1686.5 321V323M1686.5 319V333M1687.5 321V332M1687.5 329V345M1688.5 332V336M1687.5 333V345M1688.5 334V336M1688.5 329V341M1689.5 335V339M1689.5 337V363M1690.5 338V345M1689.5 339V364M1690.5 344V350M1690.5 334V355M1691.5 339V350M1691.5 329V340M1692.5 334V340M1691.5 325V339M1692.5 326V335M1692.5 315V333M1693.5 316V328M1693.5 299V324M1694.5 304V316M1693.5 304V319M1694.5 305V309M1694.5 299V333M1695.5 307V319M1695.5 312V329M1696.5 319V323M1695.5 313V332M1696.5 318V322M1696.5 283V326M1697.5 309V318M1697.5 299V311M1698.5 301V310M1698.5 281V305M1699.5 287V301M1698.5 270V305M1699.5 274V288M1699.5 267V282M1700.5 273V275M1700.5 267V289M1701.5 272V280M1700.5 273V287M1701.5 280V281M1701.5 276V291M1702.5 280V283M1702.5 270V290M1703.5 282V289M1702.5 279V296M1703.5 288V292M1703.5 275V301M1704.5 290V297M1704.5 281V299M1705.5 293V298M1704.5 287V300M1705.5 289V294M1705.5 274V291M1706.5 277V290M1706.5 267V286M1707.5 271V279M1706.5 258V296M1707.5 266V273M1707.5 252V273M1708.5 257V267M1708.5 240V260M1709.5 244V257M1708.5 222V256M1709.5 238V245M1709.5 238V248M1710.5 239V246M1710.5 240V251M1711.5 245V248M1710.5 233V253M1711.5 246V250M1711.5 223V252M1712.5 240V250M1712.5 224V243M1713.5 231V241M1713.5 212V235M1714.5 223V233M1713.5 191V229M1714.5 211V224M1714.5 195V216M1715.5 199V212M1715.5 177V200M1716.5 191V199M1715.5 173V237M1716.5 182V191M1716.5 173V192M1717.5 178V184M1717.5 170V180M1718.5 179V180M1717.5 170V189M1718.5 178V181M1718.5 170V180M1719.5 175V179M1719.5 173V179M1720.5 175V179M1719.5 171V188M1720.5 178V187M1720.5 170V195M1721.5 186V194M1721.5 188V214M1722.5 193V206M1721.5 182V209M1722.5 190V206M1722.5 178V193M1723.5 185V192M1723.5 175V192M1724.5 185V190M1723.5 185V200M1724.5 189V199M1724.5 195V207M1725.5 198V205M1725.5 197V217M1726.5 205V215M1725.5 213V221M1726.5 214V221M1726.5 220V242M1727.5 220V236M1727.5 234V271M1728.5 235V264M1728.5 260V282M1729.5 262V279M1728.5 271V309M1729.5 278V296M1729.5 281V301M1730.5 288V297M1730.5 271V296M1731.5 281V289M1730.5 267V284M1731.5 278V282M1731.5 271V285M1732.5 278V283M1732.5 280V293M1733.5 283V290M1732.5 288V306M1733.5 289V301M1733.5 296V306M1734.5 298V300M1734.5 289V301M1735.5 290V300M1734.5 278V296M1735.5 281V292M1735.5 254V290M1736.5 273V282M1736.5 249V278M1737.5 262V273M1736.5 252V265M1737.5 257V263M1737.5 244V268M1738.5 256V258M1738.5 254V263M1739.5 255V259M1738.5 258V285M1739.5 259V260M1739.5 241V266M1740.5 250V259M1740.5 239V276M1741.5 249V252M1740.5 238V255M1741.5 249V251M1741.5 239V263M1742.5 245V251M1742.5 244V246M1743.5 244V246M1743.5 238V263M1744.5 244V249M1743.5 245V257M1744.5 248V255M1744.5 250V272M1745.5 255V259M1745.5 257V276M1746.5 259V269M1745.5 261V276M1746.5 262V269M1746.5 257V264M1747.5 258V263M1747.5 238V261M1748.5 252V258M1747.5 249V256M1748.5 251V253M1748.5 238V254M1749.5 245V252M1749.5 243V274M1750.5 245V252M1749.5 251V260M1750.5 251V255M1750.5 241V279M1751.5 255V260M1751.5 238V293M1752.5 259V282M1751.5 279V338M1752.5 282V325M1752.5 318V359M1753.5 323V355M1753.5 340V362M1754.5 341V356M1753.5 304V355M1754.5 329V343M1754.5 312V330M1755.5 318V330M1755.5 304V325M1756.5 307V320M1755.5 283V310M1756.5 290V307M1756.5 273V294M1757.5 285V292M1757.5 277V289M1758.5 281V285M1758.5 275V283M1759.5 276V283M1758.5 268V281M1759.5 277V278M1759.5 265V279M1760.5 273V277M1760.5 261V277M1761.5 267V273M1760.5 266V276M1761.5 266V271M1761.5 268V283M1762.5 270V279M1762.5 268V288M1763.5 270V278M1762.5 249V285M1763.5 256V270M1763.5 241V259M1764.5 247V257M1764.5 245V253M1765.5 246V248M1764.5 240V250M1765.5 245V248M1765.5 240V250M1766.5 243V246M1766.5 241V258M1767.5 245V255M1766.5 251V267M1767.5 254V262M1767.5 257V273M1768.5 261V271M1768.5 237V282M1769.5 270V277M1768.5 275V292M1769.5 276V278M1769.5 266V287M1770.5 267V278M1770.5 262V275M1771.5 266V268M1770.5 264V290M1771.5 267V286M1771.5 274V312M1772.5 283V303M1772.5 297V309M1773.5 302V306M1772.5 291V307M1773.5 298V306M1773.5 268V312M1774.5 287V298M1774.5 279V290M1775.5 284V289M1774.5 271V304M1775.5 284V298M1775.5 297V328M1776.5 297V311M1776.5 307V313M1777.5 309V313M1777.5 311V319M1778.5 312V318M1777.5 314V325M1778.5 317V323M1778.5 314V333M1779.5 322V326M1779.5 319V330M1780.5 319V325M1779.5 307V324M1780.5 312V320M1780.5 297V315M1781.5 301V313M1781.5 296V307M1782.5 300V302M1781.5 287V310M1782.5 300V308M1782.5 292V310M1783.5 307V309M1783.5 294V311M1784.5 299V310M1783.5 269V305M1784.5 290V302M1784.5 274V292M1785.5 284V291M1785.5 261V298M1786.5 275V286M1785.5 267V279M1786.5 274V276M1786.5 273V282M1787.5 274V277M1787.5 276V281M1788.5 276V279M1787.5 267V285M1788.5 278V279M1788.5 256V286M1789.5 268V279M1789.5 260V274M1790.5 262V269M1789.5 255V263M1790.5 261V263M1790.5 254V270M1791.5 262V268M1791.5 260V287M1792.5 269V276M1791.5 256V279M1792.5 273V279M1792.5 266V287M1793.5 279V281M1793.5 272V285M1794.5 276V281M1793.5 269V278M1794.5 275V276M1794.5 268V277M1795.5 271V276M1795.5 268V300M1796.5 273V294M1795.5 272V297M1796.5 289V295M1796.5 275V294M1797.5 276V291M1797.5 251V277M1798.5 268V276M1797.5 247V270M1798.5 248V270M1798.5 222V250M1799.5 232V250M1799.5 212V236M1800.5 214V235M1800.5 211V217M1801.5 213V216M1800.5 208V230M1801.5 210V214M1801.5 205V230M1802.5 209V210M1802.5 202V216M1803.5 208V210M1802.5 202V214M1803.5 209V212M1803.5 202V229M1804.5 211V227M1804.5 225V271M1805.5 226V265M1804.5 261V277M1805.5 263V272M1805.5 264V281M1806.5 269V274M1806.5 266V288M1807.5 273V275M1806.5 251V297M1807.5 271V274M1807.5 267V288M1808.5 272V278M1808.5 277V296M1809.5 278V286M1808.5 275V300M1809.5 285V292M1809.5 267V299M1810.5 291V295M1810.5 291V303M1811.5 292V296M1810.5 286V294M1811.5 288V293M1811.5 273V308M1812.5 285V289M1812.5 274V296M1813.5 281V286M1812.5 278V298M1813.5 281V289M1813.5 285V303M1814.5 287V296M1814.5 288V297M1815.5 295V296M1814.5 292V305M1815.5 295V301M1815.5 294V308M1816.5 295V301M1816.5 276V303M1817.5 280V296M1816.5 259V280M1817.5 266V280M1817.5 259V269M1818.5 264V266M1817.5 260V277M1818.5 264V266M1818.5 254V289M1819.5 261V266M1819.5 251V270M1820.5 258V262M1819.5 253V260M1820.5 256V258M1820.5 255V262M1821.5 256V259M1821.5 254V264M1822.5 258V259M1821.5 255V269M1822.5 258V265M1822.5 259V268M1823.5 261V264M1823.5 254V265M1824.5 255V261M1823.5 242V262M1824.5 250V257M1824.5 242V255M1825.5 248V252M1825.5 245V285M1826.5 247V259M1825.5 252V271M1826.5 258V270M1826.5 262V285M1827.5 269V277M1826.5 268V278M1827.5 272V277M1827.5 267V279M1828.5 268V273M1828.5 249V282M1829.5 261V270M1828.5 250V268M1829.5 257V263M1829.5 249V260M1830.5 253V259M1829.5 248V257M1830.5 251V254M1830.5 249V257M1831.5 250V253M1830.5 246V259M1831.5 250V254M1831.5 251V267M1832.5 253V255M1832.5 245V257M1833.5 250V256M1832.5 232V253M1833.5 243V251M1833.5 226V249M1834.5 236V244M1833.5 226V248M1834.5 233V237M1834.5 229V241M1835.5 233V236" stroke="#000" stroke-width="1" fill="none" shape-rendering="crispEdges"/>
<path d="M5.5 267V270M6.5 270V307M6.5 305V361M7.5 360V408M8.5 407V464M11.5 413V420M12.5 419V423M19.5 364V384M20.5 384V399M20.5 398V417M31.5 269V278M32.5 275V284M33.5 283V287M34.5 285V299M35.5 299V319M35.5 317V341M36.5 340V357M37.5 356V370M43.5 302V313M44.5 311V324M44.5 323V329M45.5 329V336M46.5 335V348M46.5 348V385M47.5 385V427M48.5 427V456M51.5 421V434M52.5 432V442M52.5 441V451M53.5 450V464M54.5 463V476M54.5 476V489M62.5 405V407M72.5 308V317M73.5 316V322M74.5 323V329M74.5 329V333M76.5 331V334M76.5 333V336M79.5 320V322M84.5 279V308M85.5 306V331M85.5 330V339M86.5 338V349M87.5 349V357M87.5 357V360M88.5 359V369M89.5 367V375M89.5 373V378M93.5 365V369M98.5 356V360M98.5 359V372M99.5 371V381M100.5 380V389M100.5 388V397M101.5 396V402M102.5 402V410M107.5 369V372M108.5 370V376M111.5 369V374M112.5 374V377M113.5 376V379M115.5 373V378M115.5 378V386M116.5 386V396M117.5 394V403M117.5 402V415M118.5 414V430M119.5 428V443M119.5 441V454M120.5 453V460M121.5 459V468M121.5 468V473M122.5 471V481M129.5 416V418M132.5 406V413M133.5 412V423M134.5 422V438M134.5 439V445M135.5 446V454M136.5 453V456M139.5 405V413M140.5 412V426M141.5 424V434M141.5 432V443M142.5 442V456M143.5 454V466M147.5 413V415M149.5 415V420M149.5 419V428M150.5 428V436M151.5 435V440M152.5 437V442M153.5 441V445M154.5 444V450M154.5 449V453M159.5 412V415M160.5 409V412M161.5 411V416M162.5 415V417M162.5 416V420M164.5 416V419M164.5 417V420M168.5 410V414M173.5 377V380M173.5 378V383M174.5 382V389M182.5 294V299M183.5 297V302M183.5 300V306M184.5 303V311M186.5 308V310M192.5 274V285M193.5 283V292M194.5 290V296M194.5 295V308M195.5 306V319M196.5 320V326M196.5 326V331M198.5 330V335M198.5 334V341M199.5 340V344M200.5 343V349M200.5 348V351M201.5 349V352M202.5 351V353M202.5 351V359M204.5 359V365M205.5 362V366M208.5 320V323M210.5 323V327M211.5 326V331M211.5 329V335M212.5 334V338M216.5 311V318M217.5 318V326M217.5 325V333M218.5 333V341M219.5 340V344M219.5 343V350M220.5 348V355M221.5 354V357M224.5 334V338M225.5 337V350M225.5 348V358M226.5 358V371M227.5 370V381M227.5 381V388M228.5 386V393M229.5 391V395M233.5 355V359M235.5 354V391M235.5 389V400M243.5 355V357M244.5 356V364M244.5 365V369M245.5 368V377M246.5 377V382M248.5 376V379M251.5 366V371M252.5 369V381M253.5 381V385M254.5 385V390M254.5 391V394M255.5 393V398M256.5 397V400M256.5 397V406M257.5 404V441M258.5 439V460M261.5 420V428M262.5 428V433M262.5 432V440M263.5 439V448M264.5 447V455M268.5 432V434M271.5 419V423M273.5 418V423M273.5 421V424M274.5 422V428M275.5 428V434M275.5 432V440M276.5 439V447M277.5 446V454M277.5 453V464M278.5 462V471M279.5 471V473M282.5 444V463M283.5 461V489M283.5 487V601M284.5 600V649M293.5 527V531M294.5 530V533M294.5 533V537M295.5 536V544M296.5 543V564M296.5 563V576M297.5 575V591M298.5 590V603M298.5 602V613M299.5 612V619M300.5 619V626M301.5 625V636M305.5 576V579M307.5 575V579M308.5 578V584M309.5 584V590M309.5 590V592M310.5 591V595M311.5 595V599M311.5 598V603M312.5 601V608M313.5 607V609M315.5 603V606M315.5 606V630M316.5 629V655M317.5 654V678M317.5 678V696M318.5 694V714M319.5 714V729M320.5 729V749M320.5 748V753M323.5 712V716M328.5 679V681M333.5 640V644M334.5 640V642M335.5 640V644M336.5 643V652M337.5 651V661M338.5 661V670M338.5 670V682M339.5 681V688M350.5 570V578M351.5 576V582M352.5 581V592M353.5 591V602M353.5 601V610M354.5 608V623M355.5 622V628M355.5 627V638M356.5 637V647M357.5 646V657M357.5 657V665M358.5 663V670M361.5 618V623M362.5 623V628M363.5 627V636M364.5 634V638M365.5 636V645M366.5 643V653M366.5 652V658M367.5 658V665M368.5 662V671M368.5 670V676M369.5 676V680M370.5 681V684M370.5 683V687M371.5 686V691M372.5 690V697M379.5 626V635M380.5 634V638M380.5 638V644M381.5 644V647M382.5 646V650M382.5 649V656M383.5 655V662M384.5 661V672M384.5 671V684M385.5 684V691M389.5 680V689M390.5 687V699M391.5 698V703M391.5 700V707M392.5 707V713M393.5 711V719M393.5 718V723M395.5 717V719M396.5 717V727M397.5 726V732M397.5 731V737M401.5 706V717M401.5 715V725M402.5 724V733M403.5 733V743M403.5 743V750M404.5 749V758M408.5 740V743M423.5 699V701M424.5 700V705M424.5 704V709M426.5 709V711M435.5 643V648M436.5 646V649M438.5 637V640M442.5 629V632M447.5 604V612M448.5 613V629M448.5 628V649M449.5 647V653M450.5 653V659M450.5 658V665M451.5 663V670M452.5 669V677M452.5 675V681M453.5 679V685M454.5 683V687M460.5 653V661M461.5 660V668M461.5 668V673M462.5 672V681M463.5 678V684M464.5 683V687M464.5 686V690M465.5 689V694M471.5 664V670M472.5 669V676M473.5 675V683M473.5 681V685M474.5 684V687M477.5 670V673M479.5 672V674M479.5 672V676M480.5 676V681M481.5 679V689M482.5 687V696M482.5 696V707M483.5 705V709M484.5 708V717M484.5 715V717M494.5 655V659M498.5 648V654M499.5 652V656M499.5 655V658M500.5 658V661M504.5 641V652M505.5 650V669M505.5 668V677M509.5 670V673M509.5 671V674M510.5 672V678M511.5 676V678M511.5 678V681M513.5 678V681M513.5 680V684M520.5 659V664M521.5 663V666M522.5 665V672M522.5 672V676M523.5 676V685M524.5 684V689M525.5 687V689M528.5 681V683M528.5 681V686M529.5 685V692M530.5 693V697M530.5 695V703M531.5 702V709M533.5 707V711M534.5 712V718M535.5 717V720M536.5 719V725M536.5 725V729M537.5 728V736M538.5 736V738M538.5 736V738M541.5 734V738M542.5 736V741M543.5 741V744M543.5 744V752M544.5 750V759M545.5 758V763M554.5 716V719M555.5 717V721M555.5 720V729M556.5 728V736M557.5 736V741M557.5 741V750M558.5 748V759M559.5 758V768M559.5 768V785M560.5 785V804M568.5 754V758M569.5 758V761M570.5 760V763M572.5 759V766M572.5 764V791M576.5 727V732M577.5 730V733M578.5 733V735M578.5 735V740M579.5 738V745M580.5 744V748M580.5 748V753M581.5 752V758M582.5 756V761M582.5 760V769M583.5 768V772M585.5 767V770M586.5 768V770M588.5 769V774M589.5 774V776M599.5 671V673M600.5 673V675M601.5 674V679M601.5 679V683M602.5 682V688M603.5 686V691M604.5 690V695M605.5 694V703M605.5 703V711M606.5 708V720M607.5 720V728M608.5 726V733M608.5 732V734M609.5 733V741M610.5 740V744M610.5 743V746M611.5 744V748M615.5 741V747M616.5 746V754M616.5 754V758M617.5 756V762M618.5 762V768M618.5 766V771M619.5 770V774M620.5 772V779M620.5 778V783M621.5 781V784M622.5 783V791M627.5 765V767M634.5 742V745M635.5 743V746M635.5 745V749M636.5 748V751M637.5 749V752M638.5 750V752M641.5 750V754M643.5 751V757M643.5 757V761M644.5 760V764M645.5 763V770M645.5 767V771M649.5 755V758M654.5 729V736M655.5 735V739M656.5 738V744M656.5 744V748M657.5 748V754M658.5 751V757M658.5 755V760M659.5 759V761M660.5 760V764M660.5 763V770M661.5 770V775M662.5 774V778M662.5 776V780M669.5 756V758M670.5 754V756M671.5 755V760M671.5 758V765M672.5 763V773M673.5 772V776M673.5 775V777M675.5 776V779M676.5 777V780M677.5 779V781M677.5 781V786M678.5 785V790M679.5 789V793M679.5 791V795M681.5 793V798M682.5 795V799M684.5 798V822M684.5 822V851M689.5 835V840M690.5 839V843M691.5 840V842M692.5 841V846M702.5 784V788M703.5 787V791M703.5 791V795M704.5 794V804M705.5 805V807M706.5 808V813M708.5 815V820M709.5 819V823M709.5 822V824M711.5 825V830M711.5 828V831M718.5 796V802M719.5 801V807M720.5 806V814M720.5 814V821M721.5 819V822M728.5 764V767M729.5 765V768M730.5 769V772M731.5 771V773M732.5 771V774M732.5 773V775M733.5 774V778M734.5 778V783M734.5 782V791M735.5 789V797M736.5 796V803M736.5 803V813M737.5 812V822M738.5 820V825M738.5 824V826M739.5 826V830M740.5 828V833M741.5 832V834M741.5 834V839M743.5 842V845M744.5 844V846M745.5 846V848M745.5 847V851M746.5 850V854M747.5 854V859M748.5 858V862M749.5 862V867M749.5 867V870M750.5 867V871M753.5 858V860M754.5 859V861M755.5 861V865M756.5 864V866M757.5 865V868M757.5 866V871M762.5 860V865M764.5 862V865M764.5 863V865M768.5 830V834M769.5 833V836M770.5 833V840M770.5 839V843M785.5 710V721M786.5 720V732M787.5 731V744M787.5 741V752M796.5 694V698M797.5 698V703M797.5 701V705M799.5 704V706M799.5 705V710M800.5 708V712M801.5 712V715M802.5 713V719M802.5 719V724M803.5 723V727M804.5 725V731M804.5 731V736M805.5 735V740M806.5 738V743M814.5 710V712M816.5 711V713M817.5 712V717M817.5 716V723M818.5 721V724M819.5 722V724M824.5 675V679M825.5 678V684M825.5 682V691M826.5 691V696M827.5 695V701M828.5 698V700M832.5 692V698M832.5 696V706M833.5 705V715M834.5 713V721M834.5 720V727M835.5 727V734M836.5 735V738M836.5 736V747M846.5 666V672M846.5 670V680M847.5 679V689M848.5 688V694M848.5 694V700M849.5 699V704M856.5 617V619M857.5 618V624M858.5 623V630M858.5 629V635M859.5 634V643M860.5 642V647M860.5 647V650M861.5 648V651M862.5 650V652M869.5 623V629M870.5 628V631M870.5 630V633M871.5 632V636M872.5 634V636M872.5 635V638M874.5 635V639M874.5 638V640M877.5 632V635M878.5 634V637M878.5 637V641M879.5 640V645M880.5 644V647M880.5 645V651M881.5 649V656M882.5 656V660M882.5 659V662M886.5 635V641M886.5 639V644M887.5 641V648M888.5 648V653M889.5 652V654M890.5 655V658M891.5 657V661M894.5 644V647M895.5 645V648M895.5 646V651M896.5 651V655M897.5 654V657M898.5 655V659M898.5 660V679M899.5 678V694M900.5 694V701M900.5 700V703M901.5 702V705M902.5 704V711M902.5 709V711M905.5 700V703M907.5 698V702M916.5 652V655M917.5 653V694M918.5 694V730M918.5 729V732M919.5 731V735M920.5 734V738M920.5 737V740M921.5 740V746M922.5 744V751M922.5 749V753M923.5 752V757M924.5 756V760M925.5 759V764M925.5 762V767M926.5 766V769M927.5 768V773M927.5 773V776M929.5 777V780M929.5 778V784M930.5 784V787M931.5 785V794M931.5 794V801M932.5 800V803M933.5 802V806M934.5 806V808M935.5 808V810M935.5 809V812M951.5 743V746M952.5 746V752M952.5 751V755M953.5 754V758M954.5 757V762M961.5 723V726M963.5 722V728M964.5 727V732M964.5 730V735M969.5 708V712M970.5 710V714M970.5 712V716M971.5 715V722M972.5 720V725M972.5 724V728M973.5 727V730M974.5 729V737M974.5 734V742M975.5 741V747M976.5 747V751M984.5 716V719M994.5 684V686M994.5 684V689M996.5 687V689M996.5 688V692M998.5 692V695M998.5 694V698M999.5 696V702M1000.5 700V707M1000.5 705V713M1001.5 713V720M1002.5 719V724M1002.5 724V728M1003.5 727V731M1004.5 731V736M1012.5 704V706M1013.5 704V706M1018.5 681V684M1019.5 683V687M1019.5 686V689M1020.5 687V693M1021.5 691V697M1021.5 695V701M1023.5 701V705M1024.5 704V706M1025.5 708V712M1026.5 711V713M1026.5 712V714M1027.5 714V720M1028.5 720V723M1028.5 723V725M1029.5 723V728M1030.5 727V729M1030.5 728V732M1032.5 731V735M1032.5 733V737M1033.5 736V742M1034.5 742V746M1046.5 700V702M1047.5 701V704M1047.5 702V705M1053.5 681V684M1054.5 682V684M1064.5 634V639M1065.5 637V643M1066.5 642V647M1066.5 646V650M1067.5 648V653M1068.5 652V655M1069.5 653V656M1070.5 655V661M1071.5 660V662M1072.5 660V664M1073.5 662V671M1073.5 669V675M1074.5 673V683M1075.5 683V690M1075.5 690V695M1076.5 694V699M1083.5 672V677M1083.5 677V680M1084.5 677V682M1085.5 682V687M1085.5 686V689M1086.5 687V692M1087.5 692V696M1089.5 692V696M1100.5 675V679M1102.5 676V679M1102.5 677V682M1103.5 681V683M1104.5 681V688M1104.5 688V692M1105.5 690V695M1106.5 694V699M1106.5 699V705M1107.5 702V707M1108.5 705V711M1108.5 710V715M1109.5 714V719M1110.5 717V720M1124.5 639V641M1129.5 622V626M1130.5 625V632M1131.5 629V635M1131.5 634V639M1132.5 638V642M1133.5 642V644M1133.5 644V646M1134.5 644V648M1135.5 647V651M1135.5 650V655M1136.5 654V660M1137.5 659V661M1141.5 628V635M1142.5 634V638M1142.5 636V642M1143.5 641V645M1144.5 645V650M1144.5 649V655M1145.5 654V660M1146.5 659V665M1150.5 641V645M1150.5 643V647M1151.5 647V649M1152.5 648V653M1152.5 650V653M1153.5 652V657M1154.5 655V661M1159.5 630V633M1160.5 633V635M1160.5 635V640M1161.5 638V641M1162.5 640V643M1162.5 643V646M1166.5 623V627M1166.5 626V631M1167.5 630V634M1168.5 633V636M1169.5 634V636M1170.5 634V637M1170.5 636V641M1171.5 639V643M1172.5 642V646M1172.5 645V650M1173.5 650V655M1174.5 653V656M1174.5 656V662M1176.5 661V663M1177.5 660V664M1180.5 657V659M1180.5 658V663M1181.5 663V665M1182.5 664V670M1183.5 670V674M1184.5 673V677M1184.5 675V678M1187.5 674V676M1190.5 673V676M1190.5 675V677M1194.5 670V672M1195.5 671V673M1197.5 672V680M1198.5 679V686M1199.5 684V693M1200.5 691V697M1201.5 696V699M1202.5 698V701M1203.5 700V704M1204.5 702V705M1205.5 701V705M1207.5 702V707M1207.5 707V713M1208.5 713V715M1209.5 713V718M1209.5 717V721M1210.5 719V722M1211.5 721V724M1211.5 724V727M1212.5 725V729M1213.5 728V730M1214.5 729V732M1214.5 731V734M1215.5 732V736M1216.5 734V739M1219.5 734V736M1220.5 735V738M1220.5 738V740M1221.5 739V744M1222.5 743V746M1222.5 746V750M1223.5 749V753M1224.5 752V755M1226.5 753V768M1226.5 765V782M1231.5 750V753M1234.5 748V751M1235.5 750V752M1235.5 750V753M1242.5 747V752M1243.5 751V754M1243.5 752V756M1244.5 755V759M1246.5 758V760M1247.5 759V762M1248.5 761V763M1251.5 760V763M1258.5 728V730M1261.5 725V728M1262.5 728V731M1262.5 731V735M1263.5 735V737M1265.5 737V739M1267.5 729V738M1268.5 737V741M1268.5 740V745M1269.5 743V748M1270.5 748V753M1275.5 733V737M1277.5 734V736M1277.5 735V737M1283.5 718V720M1294.5 679V682M1295.5 680V684M1296.5 682V684M1297.5 683V685M1300.5 680V683M1301.5 682V686M1302.5 683V686M1303.5 685V687M1308.5 658V660M1309.5 659V663M1310.5 661V664M1312.5 662V665M1313.5 662V665M1317.5 640V642M1318.5 640V645M1319.5 644V648M1319.5 648V653M1320.5 651V656M1321.5 655V662M1321.5 661V670M1322.5 669V677M1323.5 676V684M1333.5 659V662M1334.5 662V665M1334.5 664V671M1335.5 670V676M1336.5 674V679M1340.5 671V674M1340.5 675V679M1341.5 678V685M1342.5 684V687M1342.5 685V688M1343.5 688V692M1344.5 689V691M1345.5 689V691M1345.5 689V692M1347.5 689V692M1349.5 690V692M1349.5 689V693M1351.5 692V694M1351.5 694V696M1357.5 675V681M1358.5 679V686M1359.5 685V689M1360.5 687V693M1362.5 692V695M1362.5 694V696M1370.5 640V645M1371.5 644V650M1377.5 569V571M1378.5 570V579M1379.5 578V583M1381.5 568V571M1382.5 569V578M1383.5 576V582M1383.5 582V591M1384.5 590V599M1390.5 554V557M1391.5 554V568M1391.5 567V571M1392.5 570V574M1393.5 572V579M1393.5 578V582M1402.5 490V499M1402.5 498V502M1403.5 502V514M1404.5 511V514M1408.5 472V477M1408.5 476V484M1409.5 482V491M1413.5 468V485M1414.5 484V507M1414.5 507V515M1416.5 515V518M1419.5 504V510M1420.5 509V518M1423.5 487V499M1423.5 498V509M1424.5 506V525M1425.5 522V537M1428.5 502V504M1428.5 503V509M1429.5 508V512M1430.5 511V516M1430.5 515V520M1434.5 518V521M1435.5 520V523M1438.5 502V504M1441.5 503V507M1441.5 505V516M1442.5 515V526M1443.5 524V534M1444.5 534V542M1444.5 540V548M1445.5 546V549M1449.5 529V531M1450.5 531V534M1450.5 532V538M1451.5 536V543M1452.5 541V545M1453.5 543V548M1456.5 531V534M1458.5 530V533M1459.5 535V537M1461.5 522V526M1463.5 523V525M1465.5 521V524M1473.5 424V437M1473.5 436V451M1474.5 449V464M1475.5 464V474M1480.5 452V454M1484.5 441V449M1484.5 449V451M1485.5 451V462M1486.5 461V465M1496.5 362V372M1496.5 372V391M1497.5 390V393M1502.5 354V367M1502.5 366V382M1503.5 380V399M1504.5 397V409M1505.5 409V424M1505.5 423V491M1506.5 490V525M1507.5 525V536M1511.5 397V400M1512.5 400V405M1513.5 404V410M1520.5 319V333M1520.5 332V344M1521.5 342V353M1522.5 353V360M1523.5 359V369M1523.5 369V376M1525.5 321V328M1526.5 328V336M1527.5 335V342M1527.5 342V349M1528.5 349V370M1533.5 336V343M1534.5 342V349M1537.5 306V313M1538.5 311V323M1538.5 322V330M1539.5 328V337M1540.5 337V349M1543.5 324V337M1544.5 336V356M1545.5 355V369M1549.5 317V324M1550.5 324V329M1551.5 326V332M1555.5 295V297M1555.5 296V299M1566.5 236V239M1571.5 129V139M1571.5 139V150M1575.5 69V73M1576.5 73V119M1577.5 118V168M1577.5 167V191M1578.5 190V211M1581.5 98V117M1582.5 115V150M1583.5 148V167M1583.5 167V173M1584.5 172V177M1585.5 176V182M1588.5 120V137M1589.5 135V153M1589.5 153V161M1590.5 161V170M1591.5 170V176M1595.5 129V140M1595.5 139V146M1596.5 144V154M1597.5 153V170M1597.5 170V192M1598.5 191V217M1599.5 216V222M1600.5 221V225M1603.5 188V193M1604.5 192V197M1604.5 195V202M1608.5 166V175M1608.5 174V183M1609.5 183V188M1612.5 165V172M1613.5 171V174M1614.5 172V178M1614.5 176V187M1615.5 186V200M1616.5 199V207M1616.5 207V211M1621.5 144V183M1622.5 183V220M1624.5 190V200M1625.5 200V212M1625.5 211V214M1627.5 208V221M1627.5 220V240M1628.5 239V253M1629.5 251V269M1629.5 269V278M1630.5 278V283M1631.5 281V289M1635.5 214V220M1636.5 219V232M1637.5 231V242M1642.5 184V191M1643.5 190V198M1643.5 196V203M1649.5 142V155M1649.5 153V171M1650.5 171V202M1651.5 202V236M1651.5 234V256M1654.5 257V259M1656.5 211V218M1657.5 217V220M1658.5 219V223M1661.5 214V225M1662.5 224V236M1662.5 235V247M1663.5 247V277M1666.5 250V252M1666.5 250V255M1667.5 254V263M1668.5 262V269M1668.5 267V274M1669.5 272V277M1670.5 277V286M1670.5 286V294M1672.5 259V273M1673.5 273V288M1674.5 288V301M1674.5 300V313M1675.5 311V342M1676.5 341V353M1676.5 352V358M1677.5 357V361M1683.5 307V312M1684.5 310V315M1685.5 314V321M1685.5 321V323M1686.5 321V332M1687.5 332V336M1687.5 334V336M1688.5 335V339M1689.5 338V345M1689.5 344V350M1693.5 305V309M1694.5 307V319M1695.5 319V323M1700.5 272V280M1701.5 280V283M1702.5 282V289M1702.5 288V292M1703.5 290V297M1709.5 239V246M1710.5 245V248M1710.5 246V250M1719.5 175V179M1719.5 178V187M1720.5 186V194M1721.5 193V206M1723.5 185V190M1723.5 189V199M1724.5 198V205M1725.5 205V215M1725.5 214V221M1726.5 220V236M1727.5 235V264M1728.5 262V279M1728.5 278V296M1731.5 278V283M1732.5 283V290M1732.5 289V301M1738.5 255V259M1740.5 249V251M1743.5 244V249M1743.5 248V255M1744.5 255V259M1745.5 259V269M1749.5 245V252M1749.5 251V255M1750.5 255V260M1751.5 259V282M1751.5 282V325M1752.5 323V355M1760.5 266V271M1761.5 270V279M1764.5 246V248M1766.5 245V255M1766.5 254V262M1767.5 261V271M1768.5 270V277M1770.5 267V286M1771.5 283V303M1772.5 302V306M1774.5 284V298M1775.5 297V311M1776.5 309V313M1777.5 312V318M1777.5 317V323M1778.5 322V326M1781.5 300V308M1782.5 307V309M1786.5 274V277M1787.5 276V279M1790.5 262V268M1791.5 269V276M1791.5 273V279M1792.5 279V281M1795.5 273V294M1802.5 208V210M1802.5 209V212M1803.5 211V227M1804.5 226V265M1804.5 263V272M1805.5 269V274M1806.5 273V275M1807.5 272V278M1808.5 278V286M1808.5 285V292M1809.5 291V295M1812.5 281V289M1813.5 287V296M1814.5 295V301M1817.5 264V266M1820.5 256V259M1821.5 258V265M1825.5 247V259M1825.5 258V270M1826.5 269V277M1830.5 250V254M1831.5 253V255M1834.5 233V236" stroke="#ff0000" stroke-width="1" fill="none" shape-rendering="crispEdges"/>
</g>
<rect x="1861" y="230" width="54" height="14" fill="#0000ff"/>
<path d="M1860 237.5H1864" stroke="#fff"/>
<text x="1866.5" y="241" font-size="11" text-anchor="start" font-weight="normal" fill="#fff" textLength="38" lengthAdjust="spacingAndGlyphs">1838.14</text>
<text x="103" y="926.5" font-size="12" text-anchor="start" font-weight="normal" fill="#000" textLength="1474" lengthAdjust="spacingAndGlyphs">Haftungsausschluss für Inhalte: Alle Trendkanäle bzw. andere Linien, oder Grafiken hier sind keine Empfehlungen, oder Beratung, sondern die zeigen lediglich meine eigene Einschätzung. Alle Chartdaten sind ohne Gewähr.&#160; www.wikifolio.com/de/de/p/cyberwaehrungen</text>
<path d="M0 0.5H1916M0.5 0V952M1915.5 0V952M0 951.5H1916" stroke="#000" stroke-width="1" fill="none"/>
</svg></body></html>
